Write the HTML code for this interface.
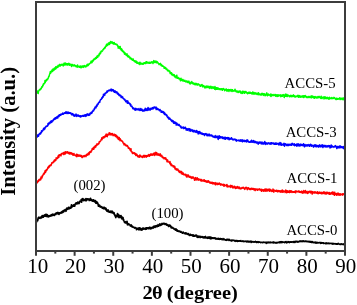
<!DOCTYPE html>
<html><head><meta charset="utf-8"><style>
html,body{margin:0;padding:0;background:#fff;}
svg{display:block;will-change:transform;}
text{font-family:"Liberation Serif",serif;}
</style></head><body>
<svg width="357" height="305" viewBox="0 0 357 305">
<rect x="0" y="0" width="357" height="305" fill="#fff"/>
<g fill="none" stroke-width="1.5" stroke-linejoin="round">
<path stroke="#00ff00" d="M36.0,94.82 L36.2,91.87 L36.5,93.45 L36.8,92.64 L37.0,92.49 L37.2,92.41 L37.5,91.09 L37.8,91.92 L38.0,91.29 L38.2,93.55 L38.5,91.44 L38.8,90.82 L39.0,90.59 L39.2,90.08 L39.5,89.55 L39.8,89.65 L40.0,89.86 L40.2,89.10 L40.5,89.48 L40.8,88.43 L41.0,88.19 L41.2,88.72 L41.5,87.73 L41.8,86.71 L42.0,86.51 L42.2,86.54 L42.5,86.97 L42.8,85.25 L43.0,84.87 L43.2,85.23 L43.5,83.71 L43.8,83.70 L44.0,84.04 L44.2,83.51 L44.5,82.89 L44.8,82.91 L45.0,80.49 L45.2,82.49 L45.5,80.99 L45.8,80.25 L46.0,81.11 L46.2,81.05 L46.5,80.04 L46.8,79.34 L47.0,79.66 L47.2,79.26 L47.5,79.77 L47.8,78.99 L48.0,78.26 L48.2,78.39 L48.5,77.15 L48.8,76.24 L49.0,76.55 L49.2,75.85 L49.5,74.65 L49.8,73.64 L50.0,73.74 L50.2,71.71 L50.5,73.26 L50.8,72.80 L51.0,71.22 L51.2,71.95 L51.5,71.07 L51.8,71.85 L52.0,69.93 L52.2,70.36 L52.5,71.10 L52.8,71.13 L53.0,68.91 L53.2,69.66 L53.5,69.92 L53.8,69.12 L54.0,70.21 L54.2,68.32 L54.5,69.03 L54.8,67.97 L55.0,69.24 L55.2,68.18 L55.5,67.77 L55.8,66.78 L56.0,68.64 L56.2,67.90 L56.5,67.73 L56.8,67.79 L57.0,67.15 L57.2,66.39 L57.5,66.14 L57.8,65.99 L58.0,67.15 L58.2,65.31 L58.5,65.69 L58.8,65.73 L59.0,65.94 L59.2,66.03 L59.5,64.81 L59.8,64.40 L60.0,65.32 L60.2,65.94 L60.5,65.56 L60.8,65.14 L61.0,64.73 L61.2,65.02 L61.5,64.62 L61.8,65.20 L62.0,64.18 L62.2,64.70 L62.5,64.51 L62.8,64.87 L63.0,64.65 L63.2,66.01 L63.5,65.35 L63.8,65.32 L64.0,63.17 L64.2,64.16 L64.5,63.96 L64.8,64.61 L65.0,62.88 L65.2,64.91 L65.5,64.79 L65.8,63.31 L66.0,63.45 L66.2,63.50 L66.5,63.96 L66.8,64.27 L67.0,65.08 L67.2,63.70 L67.5,64.26 L67.8,63.89 L68.0,64.87 L68.2,64.31 L68.5,64.74 L68.8,63.35 L69.0,63.97 L69.2,63.70 L69.5,65.19 L69.8,64.79 L70.0,64.31 L70.2,64.31 L70.5,64.96 L70.8,64.32 L71.0,64.26 L71.2,65.17 L71.5,66.43 L71.8,64.87 L72.0,64.75 L72.2,64.45 L72.5,64.42 L72.8,65.60 L73.0,65.86 L73.2,65.42 L73.5,65.67 L73.8,65.61 L74.0,65.69 L74.2,64.77 L74.5,65.48 L74.8,65.90 L75.0,65.44 L75.2,65.69 L75.5,65.55 L75.8,65.90 L76.0,66.65 L76.2,65.93 L76.5,66.11 L76.8,66.70 L77.0,66.61 L77.2,67.25 L77.5,64.99 L77.8,66.76 L78.0,65.97 L78.2,66.34 L78.5,66.77 L78.8,66.92 L79.0,66.90 L79.2,66.38 L79.5,67.27 L79.8,66.15 L80.0,66.25 L80.2,66.84 L80.5,66.05 L80.8,67.69 L81.0,67.01 L81.2,67.71 L81.5,66.38 L81.8,66.17 L82.0,66.50 L82.2,66.84 L82.5,66.05 L82.8,66.63 L83.0,66.39 L83.2,67.37 L83.5,66.00 L83.8,67.03 L84.0,66.01 L84.2,65.81 L84.5,65.93 L84.8,65.60 L85.0,66.34 L85.2,66.81 L85.5,66.21 L85.8,66.41 L86.0,66.92 L86.2,66.01 L86.5,65.87 L86.8,65.49 L87.0,64.59 L87.2,65.90 L87.5,64.25 L87.8,65.55 L88.0,64.98 L88.2,65.48 L88.5,64.58 L88.8,63.93 L89.0,64.44 L89.2,63.69 L89.5,63.72 L89.8,63.66 L90.0,63.37 L90.2,63.14 L90.5,62.56 L90.8,62.75 L91.0,61.37 L91.2,62.36 L91.5,61.52 L91.8,62.70 L92.0,62.57 L92.2,60.42 L92.5,61.46 L92.8,61.07 L93.0,60.29 L93.2,61.00 L93.5,60.17 L93.8,59.14 L94.0,59.80 L94.2,59.62 L94.5,59.52 L94.8,58.46 L95.0,59.31 L95.2,59.12 L95.5,57.72 L95.8,57.75 L96.0,57.83 L96.2,57.27 L96.5,58.38 L96.8,57.18 L97.0,56.16 L97.2,56.01 L97.5,56.16 L97.8,57.28 L98.0,55.51 L98.2,55.40 L98.5,55.34 L98.8,54.72 L99.0,55.82 L99.2,53.83 L99.5,54.30 L99.8,53.65 L100.0,53.62 L100.2,52.24 L100.5,53.71 L100.8,52.27 L101.0,52.05 L101.2,51.17 L101.5,50.98 L101.8,51.45 L102.0,51.40 L102.2,50.94 L102.5,50.89 L102.8,50.28 L103.0,49.55 L103.2,49.71 L103.5,49.25 L103.8,48.53 L104.0,48.72 L104.2,48.76 L104.5,47.84 L104.8,47.20 L105.0,47.56 L105.2,47.97 L105.5,46.41 L105.8,46.19 L106.0,45.88 L106.2,46.42 L106.5,44.32 L106.8,45.38 L107.0,45.63 L107.2,44.20 L107.5,45.38 L107.8,44.62 L108.0,43.81 L108.2,44.10 L108.5,42.89 L108.8,43.31 L109.0,44.59 L109.2,42.81 L109.5,44.31 L109.8,43.04 L110.0,43.58 L110.2,42.92 L110.5,41.49 L110.8,42.46 L111.0,42.91 L111.2,42.12 L111.5,42.01 L111.8,43.06 L112.0,42.48 L112.2,41.89 L112.5,42.53 L112.8,43.50 L113.0,42.75 L113.2,43.64 L113.5,44.05 L113.8,43.21 L114.0,42.58 L114.2,42.57 L114.5,43.46 L114.8,44.15 L115.0,43.94 L115.2,44.29 L115.5,43.89 L115.8,44.53 L116.0,44.27 L116.2,44.57 L116.5,44.19 L116.8,44.22 L117.0,45.07 L117.2,44.89 L117.5,45.20 L117.8,46.39 L118.0,46.15 L118.2,48.19 L118.5,47.23 L118.8,46.53 L119.0,47.61 L119.2,47.59 L119.5,47.20 L119.8,48.51 L120.0,47.61 L120.2,46.48 L120.5,49.02 L120.8,48.41 L121.0,49.91 L121.2,48.86 L121.5,48.79 L121.8,50.67 L122.0,49.34 L122.2,50.36 L122.5,51.36 L122.8,50.82 L123.0,50.98 L123.2,51.37 L123.5,52.10 L123.8,51.41 L124.0,52.56 L124.2,52.84 L124.5,54.19 L124.8,52.88 L125.0,52.82 L125.2,54.08 L125.5,53.66 L125.8,54.32 L126.0,54.47 L126.2,55.32 L126.5,54.45 L126.8,55.01 L127.0,53.76 L127.2,54.97 L127.5,56.63 L127.8,55.51 L128.0,55.70 L128.2,55.59 L128.5,56.87 L128.8,56.82 L129.0,56.20 L129.2,57.50 L129.5,57.43 L129.8,57.91 L130.0,57.25 L130.2,58.85 L130.5,58.23 L130.8,58.09 L131.0,58.03 L131.2,58.37 L131.5,59.22 L131.8,58.73 L132.0,59.73 L132.2,59.62 L132.5,60.28 L132.8,60.17 L133.0,59.84 L133.2,58.93 L133.5,60.45 L133.8,60.94 L134.0,60.75 L134.2,61.16 L134.5,60.71 L134.8,60.93 L135.0,60.73 L135.2,62.25 L135.5,61.66 L135.8,61.40 L136.0,61.01 L136.2,61.84 L136.5,62.91 L136.8,62.43 L137.0,61.82 L137.2,63.21 L137.5,63.31 L137.8,63.13 L138.0,63.11 L138.2,63.43 L138.5,63.16 L138.8,63.40 L139.0,62.57 L139.2,64.03 L139.5,63.36 L139.8,64.52 L140.0,62.15 L140.2,63.85 L140.5,64.06 L140.8,63.29 L141.0,63.77 L141.2,63.95 L141.5,63.85 L141.8,63.18 L142.0,63.41 L142.2,64.11 L142.5,64.27 L142.8,63.56 L143.0,63.55 L143.2,63.62 L143.5,64.12 L143.8,62.87 L144.0,62.69 L144.2,63.53 L144.5,62.73 L144.8,62.97 L145.0,63.29 L145.2,63.43 L145.5,62.40 L145.8,63.43 L146.0,61.80 L146.2,63.12 L146.5,61.79 L146.8,61.94 L147.0,63.07 L147.2,62.43 L147.5,62.19 L147.8,62.39 L148.0,62.93 L148.2,62.62 L148.5,62.63 L148.8,63.27 L149.0,62.20 L149.2,62.34 L149.5,62.30 L149.8,63.30 L150.0,63.16 L150.2,63.30 L150.5,62.45 L150.8,62.31 L151.0,62.85 L151.2,62.03 L151.5,62.69 L151.8,62.56 L152.0,61.66 L152.2,61.98 L152.5,61.94 L152.8,63.04 L153.0,63.55 L153.2,61.94 L153.5,62.01 L153.8,60.63 L154.0,62.13 L154.2,62.00 L154.5,61.36 L154.8,62.47 L155.0,61.06 L155.2,61.87 L155.5,62.08 L155.8,61.26 L156.0,62.55 L156.2,62.74 L156.5,61.36 L156.8,61.45 L157.0,62.77 L157.2,62.52 L157.5,61.95 L157.8,62.64 L158.0,62.89 L158.2,62.99 L158.5,63.70 L158.8,63.54 L159.0,64.48 L159.2,64.36 L159.5,64.05 L159.8,64.40 L160.0,64.67 L160.2,64.42 L160.5,63.38 L160.8,64.77 L161.0,64.44 L161.2,65.51 L161.5,64.76 L161.8,65.19 L162.0,65.28 L162.2,66.32 L162.5,65.65 L162.8,65.63 L163.0,66.22 L163.2,66.00 L163.5,66.58 L163.8,66.70 L164.0,67.08 L164.2,68.29 L164.5,67.10 L164.8,67.58 L165.0,67.64 L165.2,68.38 L165.5,67.47 L165.8,67.97 L166.0,68.57 L166.2,69.13 L166.5,68.99 L166.8,68.93 L167.0,68.92 L167.2,69.96 L167.5,70.73 L167.8,70.28 L168.0,70.41 L168.2,70.79 L168.5,70.18 L168.8,70.80 L169.0,71.06 L169.2,71.63 L169.5,71.68 L169.8,71.21 L170.0,72.85 L170.2,73.44 L170.5,72.50 L170.8,73.14 L171.0,73.29 L171.2,73.83 L171.5,72.70 L171.8,74.77 L172.0,73.74 L172.2,74.98 L172.5,74.47 L172.8,74.38 L173.0,74.72 L173.2,75.52 L173.5,74.64 L173.8,75.11 L174.0,75.22 L174.2,74.65 L174.5,76.63 L174.8,76.36 L175.0,76.16 L175.2,77.03 L175.5,75.92 L175.8,76.60 L176.0,77.83 L176.2,77.54 L176.5,75.76 L176.8,75.24 L177.0,76.76 L177.2,78.17 L177.5,77.39 L177.8,77.68 L178.0,78.31 L178.2,77.55 L178.5,78.35 L178.8,78.83 L179.0,78.76 L179.2,78.85 L179.5,78.38 L179.8,79.17 L180.0,78.73 L180.2,79.89 L180.5,80.77 L180.8,78.90 L181.0,78.15 L181.2,79.31 L181.5,79.90 L181.8,80.41 L182.0,80.53 L182.2,79.51 L182.5,79.60 L182.8,80.93 L183.0,79.61 L183.2,81.01 L183.5,80.31 L183.8,80.99 L184.0,81.04 L184.2,81.17 L184.5,81.28 L184.8,80.27 L185.0,81.13 L185.2,81.04 L185.5,81.29 L185.8,81.93 L186.0,81.11 L186.2,80.92 L186.5,81.00 L186.8,81.33 L187.0,82.05 L187.2,81.19 L187.5,82.45 L187.8,82.01 L188.0,81.78 L188.2,81.19 L188.5,82.22 L188.8,82.56 L189.0,81.17 L189.2,83.02 L189.5,83.36 L189.8,82.65 L190.0,82.82 L190.2,84.04 L190.5,83.40 L190.8,82.19 L191.0,82.79 L191.2,82.77 L191.5,82.84 L191.8,81.57 L192.0,83.51 L192.2,82.73 L192.5,83.27 L192.8,83.14 L193.0,83.81 L193.2,83.16 L193.5,82.92 L193.8,83.77 L194.0,84.35 L194.2,83.37 L194.5,84.45 L194.8,83.84 L195.0,83.43 L195.2,84.72 L195.5,83.38 L195.8,84.55 L196.0,83.71 L196.2,84.35 L196.5,83.42 L196.8,83.73 L197.0,84.96 L197.2,84.51 L197.5,84.50 L197.8,84.29 L198.0,84.91 L198.2,83.88 L198.5,84.13 L198.8,84.79 L199.0,84.46 L199.2,84.61 L199.5,85.07 L199.8,85.10 L200.0,85.11 L200.2,86.31 L200.5,85.98 L200.8,86.18 L201.0,85.48 L201.2,85.26 L201.5,84.75 L201.8,85.47 L202.0,84.49 L202.2,85.45 L202.5,86.31 L202.8,86.89 L203.0,86.55 L203.2,85.51 L203.5,86.38 L203.8,85.66 L204.0,86.69 L204.2,86.18 L204.5,86.81 L204.8,87.90 L205.0,86.96 L205.2,87.86 L205.5,86.62 L205.8,86.36 L206.0,87.41 L206.2,87.70 L206.5,86.38 L206.8,86.81 L207.0,85.95 L207.2,86.74 L207.5,87.44 L207.8,86.90 L208.0,86.66 L208.2,86.21 L208.5,87.32 L208.8,87.63 L209.0,87.55 L209.2,87.39 L209.5,86.52 L209.8,88.39 L210.0,87.35 L210.2,87.34 L210.5,87.91 L210.8,86.22 L211.0,87.52 L211.2,87.53 L211.5,87.88 L211.8,88.51 L212.0,88.03 L212.2,86.69 L212.5,87.63 L212.8,88.00 L213.0,88.01 L213.2,87.19 L213.5,87.01 L213.8,88.38 L214.0,88.30 L214.2,88.12 L214.5,87.14 L214.8,89.28 L215.0,86.52 L215.2,88.08 L215.5,89.60 L215.8,88.29 L216.0,88.56 L216.2,87.75 L216.5,89.32 L216.8,87.77 L217.0,88.73 L217.2,88.70 L217.5,88.03 L217.8,89.23 L218.0,87.89 L218.2,88.37 L218.5,88.80 L218.8,88.61 L219.0,89.17 L219.2,89.49 L219.5,88.79 L219.8,88.68 L220.0,88.73 L220.2,88.86 L220.5,89.61 L220.8,89.03 L221.0,89.44 L221.2,89.18 L221.5,88.76 L221.8,89.82 L222.0,88.72 L222.2,89.38 L222.5,90.31 L222.8,88.79 L223.0,89.45 L223.2,88.57 L223.5,89.25 L223.8,88.70 L224.0,89.41 L224.2,89.34 L224.5,89.78 L224.8,90.68 L225.0,89.93 L225.2,90.19 L225.5,89.80 L225.8,89.72 L226.0,89.40 L226.2,88.85 L226.5,90.01 L226.8,90.98 L227.0,90.32 L227.2,89.74 L227.5,91.09 L227.8,89.87 L228.0,89.79 L228.2,89.47 L228.5,89.65 L228.8,90.11 L229.0,91.49 L229.2,90.20 L229.5,89.74 L229.8,90.02 L230.0,90.29 L230.2,89.43 L230.5,90.56 L230.8,90.94 L231.0,90.74 L231.2,90.94 L231.5,89.84 L231.8,89.63 L232.0,91.45 L232.2,91.37 L232.5,89.83 L232.8,90.91 L233.0,90.83 L233.2,91.18 L233.5,91.01 L233.8,90.62 L234.0,91.07 L234.2,91.09 L234.5,91.00 L234.8,89.95 L235.0,89.30 L235.2,90.66 L235.5,90.19 L235.8,91.36 L236.0,91.68 L236.2,91.44 L236.5,91.10 L236.8,91.40 L237.0,92.10 L237.2,91.00 L237.5,92.03 L237.8,91.94 L238.0,91.71 L238.2,92.46 L238.5,91.19 L238.8,92.23 L239.0,91.14 L239.2,91.28 L239.5,91.14 L239.8,92.08 L240.0,91.29 L240.2,91.92 L240.5,91.24 L240.8,92.60 L241.0,93.10 L241.2,92.17 L241.5,93.05 L241.8,92.44 L242.0,93.44 L242.2,92.23 L242.5,91.27 L242.8,93.14 L243.0,92.20 L243.2,91.69 L243.5,91.95 L243.8,91.40 L244.0,92.30 L244.2,91.79 L244.5,93.36 L244.8,92.89 L245.0,91.53 L245.2,91.65 L245.5,92.24 L245.8,91.45 L246.0,92.57 L246.2,92.64 L246.5,92.23 L246.8,92.39 L247.0,93.04 L247.2,93.62 L247.5,93.69 L247.8,92.84 L248.0,93.36 L248.2,92.43 L248.5,93.14 L248.8,92.34 L249.0,93.38 L249.2,92.22 L249.5,92.41 L249.8,93.01 L250.0,93.37 L250.2,92.20 L250.5,92.76 L250.8,93.19 L251.0,93.27 L251.2,92.65 L251.5,93.24 L251.8,93.04 L252.0,94.07 L252.2,93.58 L252.5,92.48 L252.8,91.97 L253.0,93.38 L253.2,94.05 L253.5,93.47 L253.8,93.91 L254.0,93.12 L254.2,92.61 L254.5,93.90 L254.8,93.54 L255.0,93.91 L255.2,92.70 L255.5,93.66 L255.8,93.20 L256.0,94.08 L256.2,93.28 L256.5,93.29 L256.8,93.32 L257.0,94.46 L257.2,93.74 L257.5,93.30 L257.8,93.16 L258.0,93.18 L258.2,94.71 L258.5,92.77 L258.8,93.37 L259.0,94.29 L259.2,94.64 L259.5,93.88 L259.8,94.46 L260.0,94.47 L260.2,94.64 L260.5,94.10 L260.8,95.09 L261.0,94.25 L261.2,95.08 L261.5,93.53 L261.8,94.78 L262.0,93.49 L262.2,93.37 L262.5,94.60 L262.8,93.83 L263.0,94.62 L263.2,93.73 L263.5,95.37 L263.8,94.43 L264.0,93.77 L264.2,94.58 L264.5,95.03 L264.8,94.06 L265.0,94.86 L265.2,95.80 L265.5,95.12 L265.8,94.61 L266.0,94.30 L266.2,95.01 L266.5,93.77 L266.8,92.88 L267.0,94.32 L267.2,94.09 L267.5,95.80 L267.8,94.86 L268.0,94.20 L268.2,94.11 L268.5,95.12 L268.8,94.34 L269.0,94.51 L269.2,94.82 L269.5,94.94 L269.8,94.96 L270.0,94.99 L270.2,95.72 L270.5,95.97 L270.8,93.97 L271.0,96.52 L271.2,95.07 L271.5,95.75 L271.8,94.58 L272.0,95.23 L272.2,95.18 L272.5,95.13 L272.8,95.59 L273.0,95.47 L273.2,94.50 L273.5,95.04 L273.8,95.56 L274.0,95.55 L274.2,94.95 L274.5,95.00 L274.8,95.08 L275.0,94.53 L275.2,94.43 L275.5,96.16 L275.8,94.99 L276.0,95.30 L276.2,94.80 L276.5,96.04 L276.8,96.33 L277.0,95.16 L277.2,95.61 L277.5,94.86 L277.8,96.39 L278.0,95.89 L278.2,94.85 L278.5,96.11 L278.8,95.59 L279.0,95.64 L279.2,95.62 L279.5,95.02 L279.8,95.11 L280.0,95.82 L280.2,95.43 L280.5,94.90 L280.8,96.70 L281.0,95.37 L281.2,95.18 L281.5,95.11 L281.8,95.95 L282.0,96.14 L282.2,95.72 L282.5,96.10 L282.8,94.70 L283.0,95.39 L283.2,95.34 L283.5,95.64 L283.8,95.95 L284.0,94.44 L284.2,97.56 L284.5,95.17 L284.8,95.92 L285.0,96.22 L285.2,96.25 L285.5,95.89 L285.8,94.02 L286.0,95.12 L286.2,96.25 L286.5,95.25 L286.8,95.18 L287.0,94.42 L287.2,96.57 L287.5,96.16 L287.8,95.33 L288.0,95.80 L288.2,95.83 L288.5,95.24 L288.8,95.76 L289.0,96.09 L289.2,96.28 L289.5,96.72 L289.8,95.99 L290.0,95.71 L290.2,96.24 L290.5,95.63 L290.8,95.27 L291.0,96.72 L291.2,95.82 L291.5,96.14 L291.8,96.47 L292.0,95.43 L292.2,96.49 L292.5,96.39 L292.8,96.07 L293.0,96.38 L293.2,95.70 L293.5,94.85 L293.8,96.01 L294.0,95.65 L294.2,96.73 L294.5,96.38 L294.8,95.91 L295.0,96.27 L295.2,97.07 L295.5,96.95 L295.8,96.50 L296.0,96.55 L296.2,96.14 L296.5,96.24 L296.8,96.69 L297.0,96.27 L297.2,96.54 L297.5,95.70 L297.8,95.38 L298.0,95.37 L298.2,96.14 L298.5,97.21 L298.8,97.14 L299.0,95.84 L299.2,95.52 L299.5,96.94 L299.8,96.75 L300.0,95.67 L300.2,97.13 L300.5,96.62 L300.8,97.32 L301.0,96.74 L301.2,97.08 L301.5,96.75 L301.8,96.00 L302.0,96.44 L302.2,96.19 L302.5,97.10 L302.8,96.02 L303.0,95.71 L303.2,97.05 L303.5,97.34 L303.8,97.53 L304.0,97.33 L304.2,95.78 L304.5,96.28 L304.8,96.38 L305.0,96.71 L305.2,95.44 L305.5,96.74 L305.8,96.92 L306.0,96.20 L306.2,96.85 L306.5,97.51 L306.8,96.83 L307.0,97.45 L307.2,97.44 L307.5,97.09 L307.8,97.08 L308.0,96.64 L308.2,97.62 L308.5,96.60 L308.8,96.48 L309.0,97.34 L309.2,96.49 L309.5,97.19 L309.8,97.58 L310.0,97.01 L310.2,97.04 L310.5,97.54 L310.8,97.45 L311.0,96.09 L311.2,96.24 L311.5,97.84 L311.8,97.28 L312.0,95.81 L312.2,96.27 L312.5,97.10 L312.8,96.51 L313.0,97.40 L313.2,97.18 L313.5,97.44 L313.8,96.45 L314.0,97.54 L314.2,98.36 L314.5,96.72 L314.8,98.00 L315.0,97.81 L315.2,97.62 L315.5,97.21 L315.8,96.57 L316.0,96.75 L316.2,97.75 L316.5,97.89 L316.8,98.05 L317.0,97.91 L317.2,97.89 L317.5,97.10 L317.8,96.65 L318.0,97.51 L318.2,97.70 L318.5,97.47 L318.8,96.52 L319.0,97.13 L319.2,96.57 L319.5,97.56 L319.8,96.85 L320.0,97.40 L320.2,97.71 L320.5,97.61 L320.8,98.36 L321.0,96.89 L321.2,96.26 L321.5,98.15 L321.8,98.44 L322.0,98.47 L322.2,97.80 L322.5,97.96 L322.8,97.73 L323.0,96.89 L323.2,97.34 L323.5,98.00 L323.8,97.37 L324.0,98.87 L324.2,96.82 L324.5,97.50 L324.8,98.44 L325.0,97.42 L325.2,97.12 L325.5,97.00 L325.8,97.39 L326.0,98.75 L326.2,98.10 L326.5,98.18 L326.8,97.58 L327.0,98.41 L327.2,97.98 L327.5,97.38 L327.8,97.68 L328.0,98.08 L328.2,98.68 L328.5,97.96 L328.8,98.31 L329.0,99.23 L329.2,97.56 L329.5,97.31 L329.8,98.66 L330.0,98.34 L330.2,98.04 L330.5,98.27 L330.8,97.93 L331.0,98.45 L331.2,97.95 L331.5,98.65 L331.8,97.48 L332.0,97.71 L332.2,98.29 L332.5,97.95 L332.8,98.66 L333.0,98.24 L333.2,97.95 L333.5,98.42 L333.8,97.99 L334.0,97.39 L334.2,97.66 L334.5,97.87 L334.8,98.09 L335.0,98.45 L335.2,98.95 L335.5,98.75 L335.8,99.50 L336.0,99.22 L336.2,98.35 L336.5,99.47 L336.8,99.21 L337.0,98.24 L337.2,98.72 L337.5,99.20 L337.8,98.71 L338.0,99.19 L338.2,98.83 L338.5,99.03 L338.8,98.43 L339.0,98.87 L339.2,98.44 L339.5,99.08 L339.8,97.68 L340.0,98.91 L340.2,99.47 L340.5,99.09 L340.8,98.74 L341.0,99.09 L341.2,98.28 L341.5,98.30 L341.8,98.60 L342.0,98.74 L342.2,99.43 L342.5,98.33 L342.8,99.48 L343.0,97.95 L343.2,98.44 L343.5,98.91 L343.8,99.64 L344.0,98.59 L344.2,97.69 L344.5,99.25 L344.8,98.99 L345.0,98.38"/>
<path stroke="#0000ff" d="M36.0,135.60 L36.2,135.71 L36.5,136.08 L36.8,136.30 L37.0,134.89 L37.2,137.01 L37.5,135.46 L37.8,135.09 L38.0,135.55 L38.2,135.03 L38.5,136.19 L38.8,135.25 L39.0,134.17 L39.2,133.95 L39.5,133.68 L39.8,133.55 L40.0,133.94 L40.2,132.92 L40.5,134.02 L40.8,132.75 L41.0,132.44 L41.2,132.81 L41.5,130.77 L41.8,131.10 L42.0,131.72 L42.2,131.07 L42.5,130.75 L42.8,130.69 L43.0,129.79 L43.2,129.75 L43.5,128.75 L43.8,128.16 L44.0,129.76 L44.2,128.16 L44.5,128.00 L44.8,128.99 L45.0,128.50 L45.2,127.26 L45.5,126.97 L45.8,126.95 L46.0,126.14 L46.2,126.75 L46.5,126.23 L46.8,125.94 L47.0,126.04 L47.2,125.74 L47.5,126.15 L47.8,125.69 L48.0,123.49 L48.2,124.80 L48.5,123.35 L48.8,122.92 L49.0,123.97 L49.2,122.89 L49.5,122.89 L49.8,123.50 L50.0,122.24 L50.2,121.89 L50.5,122.40 L50.8,122.73 L51.0,122.11 L51.2,120.65 L51.5,120.99 L51.8,121.08 L52.0,122.13 L52.2,121.31 L52.5,121.09 L52.8,121.10 L53.0,119.99 L53.2,120.27 L53.5,120.08 L53.8,119.00 L54.0,119.37 L54.2,119.52 L54.5,118.33 L54.8,119.26 L55.0,119.03 L55.2,118.99 L55.5,117.71 L55.8,118.04 L56.0,118.65 L56.2,118.05 L56.5,116.91 L56.8,117.33 L57.0,117.86 L57.2,116.78 L57.5,116.88 L57.8,118.01 L58.0,116.28 L58.2,116.08 L58.5,115.38 L58.8,115.44 L59.0,116.57 L59.2,115.45 L59.5,114.68 L59.8,114.69 L60.0,115.11 L60.2,115.43 L60.5,114.39 L60.8,115.13 L61.0,114.28 L61.2,114.67 L61.5,114.65 L61.8,114.59 L62.0,113.85 L62.2,113.91 L62.5,114.22 L62.8,113.04 L63.0,113.82 L63.2,113.93 L63.5,114.15 L63.8,113.41 L64.0,113.23 L64.2,113.34 L64.5,112.74 L64.8,112.99 L65.0,113.31 L65.2,113.20 L65.5,112.38 L65.8,112.79 L66.0,111.70 L66.2,113.44 L66.5,112.63 L66.8,113.08 L67.0,112.27 L67.2,112.87 L67.5,113.18 L67.8,113.49 L68.0,112.08 L68.2,113.40 L68.5,112.79 L68.8,112.44 L69.0,113.21 L69.2,112.80 L69.5,112.85 L69.8,112.68 L70.0,113.32 L70.2,113.30 L70.5,113.27 L70.8,112.91 L71.0,113.28 L71.2,113.95 L71.5,114.59 L71.8,113.92 L72.0,114.90 L72.2,114.15 L72.5,113.61 L72.8,114.74 L73.0,113.88 L73.2,114.78 L73.5,115.26 L73.8,114.52 L74.0,114.75 L74.2,116.37 L74.5,115.12 L74.8,115.23 L75.0,115.63 L75.2,115.19 L75.5,115.28 L75.8,115.65 L76.0,114.07 L76.2,116.42 L76.5,115.00 L76.8,115.06 L77.0,116.09 L77.2,115.83 L77.5,115.11 L77.8,116.02 L78.0,115.24 L78.2,115.54 L78.5,115.09 L78.8,115.52 L79.0,116.28 L79.2,116.13 L79.5,116.26 L79.8,116.64 L80.0,116.06 L80.2,115.69 L80.5,115.91 L80.8,117.06 L81.0,116.08 L81.2,116.24 L81.5,115.97 L81.8,116.15 L82.0,116.24 L82.2,115.95 L82.5,115.83 L82.8,115.43 L83.0,115.36 L83.2,116.07 L83.5,116.24 L83.8,116.31 L84.0,115.76 L84.2,115.19 L84.5,116.03 L84.8,115.98 L85.0,114.67 L85.2,116.01 L85.5,115.84 L85.8,116.44 L86.0,114.72 L86.2,114.58 L86.5,115.76 L86.8,114.16 L87.0,114.74 L87.2,114.46 L87.5,114.43 L87.8,113.83 L88.0,114.75 L88.2,115.39 L88.5,114.99 L88.8,114.90 L89.0,114.32 L89.2,115.30 L89.5,114.64 L89.8,114.84 L90.0,113.16 L90.2,114.13 L90.5,113.05 L90.8,113.72 L91.0,113.39 L91.2,112.33 L91.5,112.83 L91.8,113.13 L92.0,112.44 L92.2,112.20 L92.5,111.03 L92.8,110.85 L93.0,110.30 L93.2,110.74 L93.5,111.06 L93.8,110.29 L94.0,109.69 L94.2,108.69 L94.5,109.28 L94.8,108.52 L95.0,107.17 L95.2,106.92 L95.5,107.39 L95.8,106.69 L96.0,107.84 L96.2,106.50 L96.5,105.47 L96.8,105.40 L97.0,106.24 L97.2,104.32 L97.5,104.94 L97.8,104.34 L98.0,104.56 L98.2,103.60 L98.5,102.66 L98.8,102.84 L99.0,102.20 L99.2,102.38 L99.5,101.40 L99.8,102.27 L100.0,100.67 L100.2,100.65 L100.5,99.64 L100.8,99.76 L101.0,99.36 L101.2,99.10 L101.5,99.18 L101.8,97.97 L102.0,97.43 L102.2,98.24 L102.5,97.05 L102.8,96.46 L103.0,97.18 L103.2,96.60 L103.5,94.20 L103.8,95.20 L104.0,95.56 L104.2,95.25 L104.5,94.12 L104.8,95.05 L105.0,93.34 L105.2,93.37 L105.5,93.28 L105.8,92.89 L106.0,93.07 L106.2,92.90 L106.5,91.97 L106.8,92.56 L107.0,91.06 L107.2,91.12 L107.5,92.08 L107.8,90.95 L108.0,91.41 L108.2,90.40 L108.5,90.38 L108.8,90.37 L109.0,90.44 L109.2,90.04 L109.5,90.17 L109.8,90.49 L110.0,90.74 L110.2,90.04 L110.5,90.33 L110.8,90.47 L111.0,89.28 L111.2,89.00 L111.5,90.94 L111.8,90.82 L112.0,90.14 L112.2,90.40 L112.5,89.72 L112.8,89.55 L113.0,90.67 L113.2,89.70 L113.5,91.24 L113.8,90.39 L114.0,91.08 L114.2,92.17 L114.5,92.26 L114.8,91.09 L115.0,92.03 L115.2,90.91 L115.5,91.33 L115.8,92.05 L116.0,92.81 L116.2,91.80 L116.5,92.64 L116.8,92.54 L117.0,91.91 L117.2,92.77 L117.5,93.95 L117.8,93.22 L118.0,93.80 L118.2,94.23 L118.5,93.53 L118.8,94.94 L119.0,95.35 L119.2,95.64 L119.5,95.71 L119.8,94.88 L120.0,95.05 L120.2,95.16 L120.5,95.33 L120.8,95.64 L121.0,96.95 L121.2,97.47 L121.5,96.46 L121.8,97.57 L122.0,96.58 L122.2,97.38 L122.5,97.22 L122.8,97.09 L123.0,98.34 L123.2,98.60 L123.5,98.56 L123.8,98.74 L124.0,98.71 L124.2,99.47 L124.5,99.43 L124.8,100.18 L125.0,99.55 L125.2,100.64 L125.5,101.03 L125.8,101.68 L126.0,101.76 L126.2,101.44 L126.5,101.10 L126.8,100.60 L127.0,101.87 L127.2,102.90 L127.5,103.23 L127.8,100.90 L128.0,102.16 L128.2,102.60 L128.5,102.39 L128.8,103.35 L129.0,103.50 L129.2,103.42 L129.5,103.97 L129.8,103.31 L130.0,103.96 L130.2,104.28 L130.5,105.63 L130.8,104.38 L131.0,105.49 L131.2,106.34 L131.5,106.07 L131.8,106.82 L132.0,106.18 L132.2,107.06 L132.5,107.58 L132.8,108.61 L133.0,107.93 L133.2,108.56 L133.5,107.91 L133.8,108.15 L134.0,109.19 L134.2,108.74 L134.5,109.36 L134.8,109.03 L135.0,109.97 L135.2,110.22 L135.5,108.37 L135.8,110.07 L136.0,109.29 L136.2,109.39 L136.5,109.10 L136.8,109.66 L137.0,108.62 L137.2,108.90 L137.5,108.93 L137.8,109.60 L138.0,110.02 L138.2,109.95 L138.5,109.76 L138.8,109.22 L139.0,108.55 L139.2,109.88 L139.5,109.76 L139.8,109.92 L140.0,110.59 L140.2,109.65 L140.5,109.66 L140.8,108.42 L141.0,110.17 L141.2,109.82 L141.5,109.43 L141.8,110.12 L142.0,109.27 L142.2,109.58 L142.5,111.09 L142.8,110.37 L143.0,110.47 L143.2,110.36 L143.5,110.29 L143.8,110.00 L144.0,111.24 L144.2,109.80 L144.5,110.26 L144.8,109.65 L145.0,109.54 L145.2,108.25 L145.5,108.52 L145.8,110.56 L146.0,110.48 L146.2,109.28 L146.5,109.47 L146.8,109.81 L147.0,108.79 L147.2,110.39 L147.5,108.66 L147.8,108.79 L148.0,107.51 L148.2,110.03 L148.5,109.10 L148.8,109.99 L149.0,108.36 L149.2,109.12 L149.5,108.91 L149.8,108.94 L150.0,110.02 L150.2,110.08 L150.5,109.49 L150.8,108.35 L151.0,109.07 L151.2,109.27 L151.5,108.73 L151.8,108.67 L152.0,108.56 L152.2,107.67 L152.5,108.30 L152.8,109.07 L153.0,107.47 L153.2,108.09 L153.5,108.52 L153.8,107.19 L154.0,107.93 L154.2,107.01 L154.5,107.71 L154.8,107.27 L155.0,107.64 L155.2,107.96 L155.5,108.17 L155.8,108.30 L156.0,107.07 L156.2,109.57 L156.5,108.55 L156.8,108.16 L157.0,108.54 L157.2,109.21 L157.5,108.52 L157.8,108.97 L158.0,109.03 L158.2,109.74 L158.5,109.07 L158.8,109.89 L159.0,109.94 L159.2,109.75 L159.5,110.70 L159.8,110.09 L160.0,109.49 L160.2,110.50 L160.5,110.53 L160.8,110.57 L161.0,110.88 L161.2,112.29 L161.5,111.18 L161.8,111.47 L162.0,111.22 L162.2,112.34 L162.5,111.72 L162.8,111.49 L163.0,111.45 L163.2,112.73 L163.5,113.09 L163.8,111.93 L164.0,112.70 L164.2,113.76 L164.5,114.24 L164.8,113.08 L165.0,113.87 L165.2,114.86 L165.5,114.28 L165.8,114.57 L166.0,114.76 L166.2,114.55 L166.5,115.61 L166.8,116.02 L167.0,115.25 L167.2,116.41 L167.5,117.27 L167.8,116.99 L168.0,117.69 L168.2,117.04 L168.5,118.45 L168.8,117.40 L169.0,119.25 L169.2,118.09 L169.5,118.17 L169.8,118.30 L170.0,118.82 L170.2,119.00 L170.5,119.12 L170.8,119.56 L171.0,120.39 L171.2,120.75 L171.5,120.24 L171.8,121.40 L172.0,120.28 L172.2,120.47 L172.5,120.62 L172.8,121.86 L173.0,120.77 L173.2,121.05 L173.5,122.84 L173.8,123.27 L174.0,123.22 L174.2,121.69 L174.5,122.75 L174.8,123.40 L175.0,123.12 L175.2,122.24 L175.5,123.15 L175.8,122.49 L176.0,122.92 L176.2,125.10 L176.5,124.36 L176.8,123.22 L177.0,123.35 L177.2,124.68 L177.5,124.19 L177.8,125.06 L178.0,124.49 L178.2,124.92 L178.5,125.35 L178.8,124.75 L179.0,124.38 L179.2,124.98 L179.5,125.44 L179.8,125.90 L180.0,126.14 L180.2,126.29 L180.5,126.78 L180.8,126.08 L181.0,127.58 L181.2,128.07 L181.5,127.20 L181.8,127.21 L182.0,127.95 L182.2,127.70 L182.5,127.52 L182.8,127.40 L183.0,127.16 L183.2,126.99 L183.5,128.18 L183.8,128.59 L184.0,127.33 L184.2,128.01 L184.5,128.27 L184.8,127.97 L185.0,127.86 L185.2,128.17 L185.5,127.32 L185.8,128.56 L186.0,128.51 L186.2,130.05 L186.5,129.43 L186.8,128.75 L187.0,129.05 L187.2,130.17 L187.5,130.20 L187.8,129.43 L188.0,129.33 L188.2,128.62 L188.5,129.38 L188.8,129.55 L189.0,129.29 L189.2,130.84 L189.5,128.75 L189.8,129.86 L190.0,130.26 L190.2,130.34 L190.5,131.15 L190.8,129.36 L191.0,129.81 L191.2,130.38 L191.5,130.46 L191.8,130.21 L192.0,130.05 L192.2,131.21 L192.5,130.00 L192.8,130.35 L193.0,131.62 L193.2,131.87 L193.5,131.42 L193.8,130.46 L194.0,130.53 L194.2,130.58 L194.5,130.52 L194.8,131.02 L195.0,132.11 L195.2,131.56 L195.5,131.05 L195.8,131.11 L196.0,130.95 L196.2,132.45 L196.5,130.59 L196.8,132.05 L197.0,131.09 L197.2,131.40 L197.5,131.21 L197.8,132.76 L198.0,132.21 L198.2,133.98 L198.5,131.79 L198.8,131.83 L199.0,132.92 L199.2,132.98 L199.5,132.55 L199.8,131.59 L200.0,133.74 L200.2,133.30 L200.5,133.27 L200.8,132.75 L201.0,133.57 L201.2,132.93 L201.5,133.37 L201.8,133.30 L202.0,134.25 L202.2,133.29 L202.5,133.44 L202.8,134.38 L203.0,133.93 L203.2,133.86 L203.5,133.80 L203.8,134.58 L204.0,133.69 L204.2,134.44 L204.5,135.44 L204.8,134.53 L205.0,133.89 L205.2,133.70 L205.5,134.58 L205.8,133.82 L206.0,133.66 L206.2,134.22 L206.5,134.08 L206.8,135.32 L207.0,133.99 L207.2,135.87 L207.5,134.52 L207.8,135.10 L208.0,135.49 L208.2,135.28 L208.5,135.64 L208.8,134.67 L209.0,133.95 L209.2,135.25 L209.5,134.42 L209.8,135.14 L210.0,136.10 L210.2,135.47 L210.5,135.29 L210.8,135.02 L211.0,135.58 L211.2,135.70 L211.5,134.91 L211.8,136.08 L212.0,135.31 L212.2,136.14 L212.5,135.79 L212.8,136.70 L213.0,136.67 L213.2,136.21 L213.5,136.19 L213.8,136.57 L214.0,137.18 L214.2,137.04 L214.5,136.55 L214.8,136.69 L215.0,137.50 L215.2,135.61 L215.5,136.97 L215.8,136.15 L216.0,137.55 L216.2,136.48 L216.5,136.76 L216.8,136.21 L217.0,136.92 L217.2,137.43 L217.5,138.00 L217.8,136.28 L218.0,136.81 L218.2,139.47 L218.5,137.72 L218.8,137.19 L219.0,137.55 L219.2,135.67 L219.5,138.28 L219.8,137.44 L220.0,136.52 L220.2,138.12 L220.5,137.07 L220.8,136.87 L221.0,137.83 L221.2,137.79 L221.5,137.31 L221.8,137.57 L222.0,136.84 L222.2,136.81 L222.5,138.25 L222.8,138.53 L223.0,138.03 L223.2,138.03 L223.5,137.60 L223.8,137.79 L224.0,137.33 L224.2,138.98 L224.5,137.62 L224.8,138.24 L225.0,138.02 L225.2,137.21 L225.5,139.25 L225.8,137.89 L226.0,137.68 L226.2,138.25 L226.5,137.67 L226.8,138.26 L227.0,137.70 L227.2,138.65 L227.5,138.38 L227.8,137.56 L228.0,139.04 L228.2,138.57 L228.5,137.82 L228.8,138.74 L229.0,138.82 L229.2,139.72 L229.5,138.12 L229.8,139.19 L230.0,138.66 L230.2,139.13 L230.5,138.64 L230.8,138.80 L231.0,139.18 L231.2,138.20 L231.5,137.69 L231.8,139.00 L232.0,138.77 L232.2,139.14 L232.5,139.51 L232.8,139.04 L233.0,139.93 L233.2,139.23 L233.5,139.37 L233.8,139.84 L234.0,139.74 L234.2,139.38 L234.5,139.55 L234.8,139.06 L235.0,139.19 L235.2,139.66 L235.5,140.13 L235.8,139.43 L236.0,140.23 L236.2,140.94 L236.5,141.11 L236.8,139.87 L237.0,140.53 L237.2,140.31 L237.5,140.45 L237.8,140.52 L238.0,140.37 L238.2,140.60 L238.5,140.25 L238.8,140.02 L239.0,140.37 L239.2,140.55 L239.5,141.03 L239.8,140.55 L240.0,140.81 L240.2,141.25 L240.5,139.87 L240.8,140.31 L241.0,140.82 L241.2,140.55 L241.5,139.96 L241.8,141.20 L242.0,140.59 L242.2,140.07 L242.5,141.84 L242.8,139.96 L243.0,140.76 L243.2,140.40 L243.5,140.90 L243.8,141.20 L244.0,140.40 L244.2,140.86 L244.5,140.88 L244.8,140.39 L245.0,141.72 L245.2,141.16 L245.5,140.91 L245.8,140.71 L246.0,140.94 L246.2,141.26 L246.5,140.93 L246.8,141.99 L247.0,139.74 L247.2,140.01 L247.5,141.17 L247.8,140.25 L248.0,141.34 L248.2,141.02 L248.5,141.79 L248.8,141.72 L249.0,142.29 L249.2,142.08 L249.5,142.31 L249.8,141.91 L250.0,142.26 L250.2,141.95 L250.5,141.32 L250.8,140.95 L251.0,141.00 L251.2,142.04 L251.5,140.35 L251.8,141.91 L252.0,141.38 L252.2,142.31 L252.5,142.01 L252.8,141.47 L253.0,141.95 L253.2,140.60 L253.5,142.16 L253.8,142.30 L254.0,140.95 L254.2,142.59 L254.5,142.03 L254.8,142.23 L255.0,141.30 L255.2,142.54 L255.5,142.56 L255.8,142.22 L256.0,141.67 L256.2,142.74 L256.5,143.06 L256.8,142.58 L257.0,142.96 L257.2,142.03 L257.5,142.50 L257.8,142.66 L258.0,142.55 L258.2,144.18 L258.5,142.76 L258.8,142.20 L259.0,143.06 L259.2,141.93 L259.5,142.83 L259.8,143.10 L260.0,142.36 L260.2,142.49 L260.5,142.14 L260.8,142.81 L261.0,142.35 L261.2,143.82 L261.5,143.19 L261.8,142.68 L262.0,141.99 L262.2,144.08 L262.5,143.67 L262.8,143.19 L263.0,143.04 L263.2,143.05 L263.5,142.69 L263.8,144.12 L264.0,143.13 L264.2,142.16 L264.5,142.65 L264.8,141.51 L265.0,143.48 L265.2,143.56 L265.5,144.18 L265.8,144.40 L266.0,142.69 L266.2,143.44 L266.5,143.79 L266.8,143.68 L267.0,142.92 L267.2,143.72 L267.5,143.56 L267.8,144.09 L268.0,143.28 L268.2,143.17 L268.5,143.02 L268.8,143.11 L269.0,142.90 L269.2,143.17 L269.5,143.69 L269.8,143.68 L270.0,144.21 L270.2,144.10 L270.5,143.83 L270.8,142.78 L271.0,143.83 L271.2,144.20 L271.5,142.73 L271.8,142.86 L272.0,142.97 L272.2,142.94 L272.5,143.40 L272.8,143.03 L273.0,143.84 L273.2,142.89 L273.5,143.56 L273.8,143.35 L274.0,143.09 L274.2,144.31 L274.5,143.72 L274.8,144.04 L275.0,143.53 L275.2,144.17 L275.5,144.14 L275.8,143.69 L276.0,142.74 L276.2,144.31 L276.5,144.25 L276.8,143.96 L277.0,144.01 L277.2,143.96 L277.5,144.02 L277.8,143.32 L278.0,143.90 L278.2,144.15 L278.5,143.60 L278.8,143.41 L279.0,145.12 L279.2,144.39 L279.5,143.86 L279.8,143.76 L280.0,142.49 L280.2,143.24 L280.5,143.96 L280.8,144.90 L281.0,142.91 L281.2,143.74 L281.5,145.32 L281.8,144.59 L282.0,144.46 L282.2,144.94 L282.5,144.17 L282.8,144.15 L283.0,144.71 L283.2,144.80 L283.5,143.67 L283.8,145.24 L284.0,143.30 L284.2,143.94 L284.5,146.22 L284.8,144.09 L285.0,144.80 L285.2,143.82 L285.5,144.25 L285.8,144.02 L286.0,144.23 L286.2,144.88 L286.5,145.55 L286.8,145.04 L287.0,145.47 L287.2,144.25 L287.5,145.45 L287.8,144.92 L288.0,145.42 L288.2,144.36 L288.5,144.49 L288.8,145.46 L289.0,145.02 L289.2,144.73 L289.5,144.27 L289.8,144.63 L290.0,145.00 L290.2,145.15 L290.5,144.40 L290.8,144.54 L291.0,145.01 L291.2,144.10 L291.5,145.34 L291.8,144.79 L292.0,144.72 L292.2,143.36 L292.5,143.86 L292.8,144.20 L293.0,144.49 L293.2,144.19 L293.5,145.08 L293.8,144.95 L294.0,144.72 L294.2,143.67 L294.5,145.74 L294.8,144.74 L295.0,145.28 L295.2,144.53 L295.5,144.94 L295.8,145.37 L296.0,145.10 L296.2,145.55 L296.5,144.88 L296.8,146.19 L297.0,143.87 L297.2,144.68 L297.5,145.61 L297.8,144.88 L298.0,144.78 L298.2,143.99 L298.5,145.78 L298.8,143.93 L299.0,145.38 L299.2,145.21 L299.5,145.62 L299.8,145.98 L300.0,144.69 L300.2,144.64 L300.5,144.94 L300.8,144.11 L301.0,145.64 L301.2,144.92 L301.5,145.26 L301.8,144.50 L302.0,145.19 L302.2,144.82 L302.5,145.15 L302.8,144.55 L303.0,145.83 L303.2,144.83 L303.5,143.70 L303.8,145.63 L304.0,145.07 L304.2,144.73 L304.5,146.77 L304.8,145.24 L305.0,144.48 L305.2,144.92 L305.5,145.53 L305.8,145.17 L306.0,146.06 L306.2,145.96 L306.5,144.86 L306.8,145.37 L307.0,145.74 L307.2,145.11 L307.5,145.09 L307.8,145.91 L308.0,145.66 L308.2,144.56 L308.5,145.08 L308.8,145.17 L309.0,145.36 L309.2,145.01 L309.5,146.25 L309.8,144.88 L310.0,144.82 L310.2,145.60 L310.5,144.14 L310.8,144.88 L311.0,145.88 L311.2,144.72 L311.5,145.02 L311.8,146.19 L312.0,145.83 L312.2,145.60 L312.5,145.72 L312.8,145.18 L313.0,145.78 L313.2,145.49 L313.5,147.12 L313.8,145.96 L314.0,145.44 L314.2,145.62 L314.5,145.70 L314.8,144.85 L315.0,145.20 L315.2,146.62 L315.5,144.88 L315.8,145.38 L316.0,146.36 L316.2,146.66 L316.5,145.15 L316.8,146.66 L317.0,145.58 L317.2,146.80 L317.5,146.12 L317.8,145.66 L318.0,146.28 L318.2,146.20 L318.5,145.41 L318.8,147.17 L319.0,145.69 L319.2,146.60 L319.5,145.63 L319.8,144.84 L320.0,145.28 L320.2,145.90 L320.5,146.39 L320.8,147.05 L321.0,146.05 L321.2,145.85 L321.5,145.29 L321.8,146.02 L322.0,146.24 L322.2,144.74 L322.5,146.87 L322.8,146.78 L323.0,147.48 L323.2,145.58 L323.5,146.16 L323.8,146.16 L324.0,145.37 L324.2,145.67 L324.5,145.60 L324.8,146.51 L325.0,146.48 L325.2,147.04 L325.5,146.00 L325.8,145.42 L326.0,146.54 L326.2,146.51 L326.5,146.70 L326.8,147.06 L327.0,145.98 L327.2,146.82 L327.5,145.76 L327.8,146.47 L328.0,146.80 L328.2,146.33 L328.5,146.55 L328.8,145.59 L329.0,146.06 L329.2,146.55 L329.5,145.75 L329.8,145.98 L330.0,147.97 L330.2,146.67 L330.5,146.04 L330.8,145.93 L331.0,147.39 L331.2,144.89 L331.5,146.36 L331.8,146.95 L332.0,146.25 L332.2,146.91 L332.5,145.98 L332.8,146.61 L333.0,146.66 L333.2,146.66 L333.5,146.75 L333.8,146.70 L334.0,147.36 L334.2,146.55 L334.5,146.37 L334.8,146.57 L335.0,146.57 L335.2,145.85 L335.5,145.63 L335.8,145.98 L336.0,146.98 L336.2,146.43 L336.5,146.60 L336.8,148.58 L337.0,147.55 L337.2,146.77 L337.5,146.53 L337.8,147.75 L338.0,146.47 L338.2,147.70 L338.5,147.33 L338.8,147.82 L339.0,146.57 L339.2,147.57 L339.5,145.95 L339.8,146.95 L340.0,147.72 L340.2,147.51 L340.5,146.00 L340.8,147.54 L341.0,147.41 L341.2,147.12 L341.5,146.74 L341.8,147.02 L342.0,146.86 L342.2,147.79 L342.5,147.52 L342.8,147.90 L343.0,147.69 L343.2,146.52 L343.5,147.39 L343.8,148.62 L344.0,146.68 L344.2,147.53 L344.5,146.91 L344.8,146.86 L345.0,147.54"/>
<path stroke="#ff0000" d="M36.0,183.97 L36.2,183.59 L36.5,183.13 L36.8,183.15 L37.0,181.33 L37.2,182.54 L37.5,182.03 L37.8,181.43 L38.0,181.28 L38.2,180.53 L38.5,181.49 L38.8,180.09 L39.0,179.40 L39.2,180.03 L39.5,179.41 L39.8,179.44 L40.0,180.11 L40.2,178.82 L40.5,178.67 L40.8,179.64 L41.0,177.11 L41.2,177.85 L41.5,178.00 L41.8,177.87 L42.0,177.96 L42.2,175.87 L42.5,176.29 L42.8,175.52 L43.0,174.95 L43.2,174.44 L43.5,173.65 L43.8,174.39 L44.0,174.30 L44.2,172.86 L44.5,173.60 L44.8,172.46 L45.0,171.82 L45.2,170.49 L45.5,172.37 L45.8,171.78 L46.0,170.80 L46.2,170.39 L46.5,169.48 L46.8,170.21 L47.0,169.50 L47.2,169.52 L47.5,168.95 L47.8,167.64 L48.0,167.21 L48.2,168.07 L48.5,166.47 L48.8,167.33 L49.0,167.39 L49.2,165.76 L49.5,166.63 L49.8,165.94 L50.0,165.93 L50.2,164.92 L50.5,164.99 L50.8,164.96 L51.0,165.51 L51.2,164.56 L51.5,164.13 L51.8,162.75 L52.0,163.45 L52.2,162.56 L52.5,162.64 L52.8,162.57 L53.0,162.72 L53.2,162.21 L53.5,161.70 L53.8,161.28 L54.0,161.86 L54.2,160.24 L54.5,160.53 L54.8,161.07 L55.0,159.85 L55.2,160.21 L55.5,159.98 L55.8,160.38 L56.0,159.61 L56.2,157.67 L56.5,158.41 L56.8,158.34 L57.0,158.42 L57.2,157.91 L57.5,158.58 L57.8,157.87 L58.0,156.27 L58.2,156.38 L58.5,155.30 L58.8,157.38 L59.0,156.05 L59.2,155.83 L59.5,154.75 L59.8,155.24 L60.0,155.57 L60.2,154.87 L60.5,154.70 L60.8,154.39 L61.0,155.80 L61.2,154.12 L61.5,153.43 L61.8,153.87 L62.0,153.85 L62.2,153.90 L62.5,153.70 L62.8,153.07 L63.0,153.54 L63.2,153.81 L63.5,152.64 L63.8,154.61 L64.0,154.35 L64.2,152.13 L64.5,152.92 L64.8,153.67 L65.0,153.79 L65.2,153.98 L65.5,151.69 L65.8,152.07 L66.0,152.36 L66.2,152.95 L66.5,151.92 L66.8,152.80 L67.0,152.78 L67.2,152.93 L67.5,151.71 L67.8,152.63 L68.0,152.58 L68.2,152.32 L68.5,153.41 L68.8,152.50 L69.0,153.62 L69.2,152.45 L69.5,153.93 L69.8,153.97 L70.0,152.55 L70.2,153.34 L70.5,153.42 L70.8,152.72 L71.0,153.88 L71.2,153.84 L71.5,153.03 L71.8,153.71 L72.0,154.30 L72.2,153.77 L72.5,153.55 L72.8,155.10 L73.0,153.63 L73.2,154.56 L73.5,155.16 L73.8,155.08 L74.0,153.59 L74.2,154.62 L74.5,154.84 L74.8,154.88 L75.0,155.47 L75.2,155.48 L75.5,155.29 L75.8,155.41 L76.0,155.91 L76.2,156.09 L76.5,154.21 L76.8,156.73 L77.0,155.10 L77.2,155.94 L77.5,154.50 L77.8,155.20 L78.0,154.78 L78.2,156.23 L78.5,156.14 L78.8,155.63 L79.0,155.55 L79.2,155.92 L79.5,155.14 L79.8,155.38 L80.0,155.32 L80.2,156.33 L80.5,155.91 L80.8,155.17 L81.0,156.23 L81.2,156.40 L81.5,157.00 L81.8,155.87 L82.0,156.52 L82.2,157.59 L82.5,156.16 L82.8,156.16 L83.0,156.70 L83.2,156.08 L83.5,156.36 L83.8,156.02 L84.0,155.81 L84.2,156.76 L84.5,155.93 L84.8,155.47 L85.0,155.83 L85.2,155.82 L85.5,156.00 L85.8,156.28 L86.0,156.68 L86.2,154.74 L86.5,155.22 L86.8,154.15 L87.0,155.27 L87.2,155.30 L87.5,154.40 L87.8,154.04 L88.0,153.76 L88.2,153.20 L88.5,154.24 L88.8,154.75 L89.0,152.62 L89.2,154.04 L89.5,152.71 L89.8,151.67 L90.0,152.61 L90.2,152.47 L90.5,151.98 L90.8,151.32 L91.0,152.22 L91.2,150.76 L91.5,151.05 L91.8,150.78 L92.0,149.57 L92.2,148.72 L92.5,148.52 L92.8,149.06 L93.0,149.26 L93.2,147.70 L93.5,148.09 L93.8,149.20 L94.0,146.92 L94.2,148.04 L94.5,147.72 L94.8,147.73 L95.0,146.09 L95.2,146.93 L95.5,145.61 L95.8,147.00 L96.0,145.39 L96.2,145.87 L96.5,144.88 L96.8,145.17 L97.0,143.87 L97.2,144.69 L97.5,144.60 L97.8,143.94 L98.0,144.64 L98.2,143.59 L98.5,143.55 L98.8,143.09 L99.0,143.63 L99.2,141.78 L99.5,141.71 L99.8,141.43 L100.0,141.62 L100.2,141.09 L100.5,141.13 L100.8,140.50 L101.0,139.71 L101.2,139.70 L101.5,139.72 L101.8,137.79 L102.0,139.77 L102.2,138.31 L102.5,138.18 L102.8,138.31 L103.0,137.74 L103.2,136.77 L103.5,137.28 L103.8,138.03 L104.0,137.60 L104.2,137.50 L104.5,136.21 L104.8,136.22 L105.0,136.80 L105.2,136.89 L105.5,135.83 L105.8,135.05 L106.0,134.30 L106.2,136.19 L106.5,134.24 L106.8,135.28 L107.0,135.40 L107.2,136.67 L107.5,134.63 L107.8,134.28 L108.0,134.50 L108.2,134.41 L108.5,134.85 L108.8,134.41 L109.0,133.52 L109.2,132.69 L109.5,134.18 L109.8,133.58 L110.0,134.86 L110.2,133.19 L110.5,134.12 L110.8,133.55 L111.0,133.46 L111.2,135.03 L111.5,134.10 L111.8,133.89 L112.0,134.47 L112.2,133.57 L112.5,133.89 L112.8,133.82 L113.0,135.55 L113.2,134.66 L113.5,134.98 L113.8,135.43 L114.0,134.77 L114.2,134.94 L114.5,134.17 L114.8,135.62 L115.0,135.63 L115.2,135.36 L115.5,136.53 L115.8,134.84 L116.0,136.38 L116.2,135.44 L116.5,135.77 L116.8,136.53 L117.0,137.68 L117.2,136.31 L117.5,136.62 L117.8,136.68 L118.0,138.89 L118.2,138.17 L118.5,138.31 L118.8,139.55 L119.0,138.65 L119.2,137.41 L119.5,138.63 L119.8,138.43 L120.0,140.67 L120.2,138.77 L120.5,140.09 L120.8,139.83 L121.0,140.14 L121.2,140.70 L121.5,140.89 L121.8,140.83 L122.0,140.78 L122.2,141.44 L122.5,141.49 L122.8,141.85 L123.0,142.77 L123.2,142.86 L123.5,143.50 L123.8,143.28 L124.0,144.84 L124.2,143.39 L124.5,143.41 L124.8,144.85 L125.0,143.96 L125.2,144.65 L125.5,145.37 L125.8,144.89 L126.0,144.93 L126.2,145.97 L126.5,145.80 L126.8,145.51 L127.0,145.37 L127.2,146.18 L127.5,145.68 L127.8,146.48 L128.0,146.65 L128.2,147.81 L128.5,148.38 L128.8,147.77 L129.0,148.17 L129.2,148.03 L129.5,148.12 L129.8,148.98 L130.0,149.86 L130.2,150.06 L130.5,150.39 L130.8,150.11 L131.0,148.82 L131.2,151.34 L131.5,151.83 L131.8,151.80 L132.0,152.03 L132.2,152.38 L132.5,153.59 L132.8,152.35 L133.0,153.34 L133.2,153.09 L133.5,153.22 L133.8,152.93 L134.0,152.99 L134.2,152.70 L134.5,153.95 L134.8,153.57 L135.0,153.19 L135.2,153.62 L135.5,153.51 L135.8,155.40 L136.0,154.39 L136.2,154.76 L136.5,154.07 L136.8,154.32 L137.0,155.75 L137.2,155.07 L137.5,155.47 L137.8,156.59 L138.0,156.85 L138.2,156.07 L138.5,156.04 L138.8,155.97 L139.0,155.74 L139.2,157.27 L139.5,155.34 L139.8,156.13 L140.0,155.07 L140.2,155.55 L140.5,156.66 L140.8,156.76 L141.0,156.73 L141.2,156.36 L141.5,156.15 L141.8,156.26 L142.0,156.36 L142.2,157.27 L142.5,157.48 L142.8,156.83 L143.0,156.19 L143.2,155.91 L143.5,156.65 L143.8,156.29 L144.0,155.25 L144.2,157.21 L144.5,156.31 L144.8,156.07 L145.0,155.69 L145.2,155.65 L145.5,156.71 L145.8,155.52 L146.0,156.12 L146.2,156.41 L146.5,157.11 L146.8,156.28 L147.0,155.83 L147.2,155.52 L147.5,156.27 L147.8,156.30 L148.0,155.35 L148.2,155.93 L148.5,155.41 L148.8,154.43 L149.0,154.75 L149.2,155.81 L149.5,156.14 L149.8,155.59 L150.0,154.97 L150.2,154.58 L150.5,155.29 L150.8,155.09 L151.0,153.81 L151.2,155.16 L151.5,154.25 L151.8,155.05 L152.0,154.91 L152.2,154.98 L152.5,155.13 L152.8,154.84 L153.0,153.69 L153.2,153.65 L153.5,154.88 L153.8,154.48 L154.0,153.15 L154.2,152.84 L154.5,154.61 L154.8,155.41 L155.0,154.53 L155.2,153.85 L155.5,154.17 L155.8,152.32 L156.0,153.42 L156.2,154.70 L156.5,154.65 L156.8,152.83 L157.0,154.94 L157.2,154.59 L157.5,154.90 L157.8,154.25 L158.0,154.45 L158.2,153.84 L158.5,154.78 L158.8,155.20 L159.0,154.13 L159.2,155.04 L159.5,154.57 L159.8,155.66 L160.0,155.74 L160.2,153.77 L160.5,155.65 L160.8,156.13 L161.0,155.29 L161.2,155.64 L161.5,155.82 L161.8,155.34 L162.0,156.13 L162.2,157.32 L162.5,156.80 L162.8,157.62 L163.0,157.46 L163.2,157.77 L163.5,157.28 L163.8,157.88 L164.0,158.85 L164.2,158.71 L164.5,158.19 L164.8,157.76 L165.0,157.83 L165.2,158.76 L165.5,159.11 L165.8,157.91 L166.0,159.42 L166.2,159.74 L166.5,159.95 L166.8,159.67 L167.0,161.69 L167.2,161.05 L167.5,159.91 L167.8,160.57 L168.0,161.77 L168.2,161.85 L168.5,161.87 L168.8,162.02 L169.0,162.16 L169.2,162.27 L169.5,162.16 L169.8,163.41 L170.0,161.56 L170.2,163.08 L170.5,164.55 L170.8,163.54 L171.0,163.53 L171.2,165.70 L171.5,165.42 L171.8,164.93 L172.0,164.91 L172.2,165.38 L172.5,165.56 L172.8,165.87 L173.0,165.81 L173.2,166.85 L173.5,166.40 L173.8,165.86 L174.0,166.41 L174.2,167.44 L174.5,167.03 L174.8,166.34 L175.0,169.02 L175.2,168.60 L175.5,168.19 L175.8,168.35 L176.0,169.19 L176.2,169.91 L176.5,168.85 L176.8,169.68 L177.0,169.21 L177.2,169.98 L177.5,169.24 L177.8,168.99 L178.0,170.35 L178.2,170.42 L178.5,171.08 L178.8,170.38 L179.0,171.82 L179.2,171.19 L179.5,172.25 L179.8,171.25 L180.0,172.56 L180.2,171.75 L180.5,172.04 L180.8,172.72 L181.0,171.19 L181.2,171.79 L181.5,173.77 L181.8,171.86 L182.0,172.65 L182.2,173.46 L182.5,174.20 L182.8,173.14 L183.0,173.69 L183.2,173.07 L183.5,173.68 L183.8,174.71 L184.0,174.42 L184.2,174.34 L184.5,174.77 L184.8,174.72 L185.0,174.87 L185.2,174.67 L185.5,174.40 L185.8,175.54 L186.0,174.52 L186.2,175.97 L186.5,176.77 L186.8,176.49 L187.0,177.09 L187.2,175.10 L187.5,176.00 L187.8,175.43 L188.0,175.58 L188.2,175.07 L188.5,175.47 L188.8,176.85 L189.0,176.84 L189.2,177.24 L189.5,177.29 L189.8,177.17 L190.0,176.27 L190.2,176.79 L190.5,177.41 L190.8,177.82 L191.0,176.91 L191.2,176.92 L191.5,177.05 L191.8,178.40 L192.0,177.85 L192.2,177.40 L192.5,177.21 L192.8,178.04 L193.0,176.82 L193.2,177.80 L193.5,177.67 L193.8,177.75 L194.0,178.32 L194.2,178.53 L194.5,180.23 L194.8,178.50 L195.0,178.94 L195.2,178.09 L195.5,177.64 L195.8,179.44 L196.0,180.02 L196.2,178.26 L196.5,178.90 L196.8,179.70 L197.0,179.14 L197.2,177.66 L197.5,179.83 L197.8,179.19 L198.0,179.79 L198.2,178.81 L198.5,180.01 L198.8,180.17 L199.0,179.14 L199.2,179.96 L199.5,179.32 L199.8,179.46 L200.0,179.28 L200.2,179.63 L200.5,179.54 L200.8,180.74 L201.0,179.94 L201.2,179.45 L201.5,181.05 L201.8,180.59 L202.0,180.93 L202.2,180.34 L202.5,180.87 L202.8,180.43 L203.0,179.96 L203.2,180.68 L203.5,180.76 L203.8,180.81 L204.0,181.31 L204.2,179.78 L204.5,181.09 L204.8,180.47 L205.0,180.85 L205.2,181.36 L205.5,181.18 L205.8,180.79 L206.0,181.73 L206.2,181.29 L206.5,181.97 L206.8,182.21 L207.0,181.30 L207.2,180.90 L207.5,181.69 L207.8,182.21 L208.0,181.96 L208.2,181.11 L208.5,180.85 L208.8,181.37 L209.0,181.43 L209.2,182.45 L209.5,182.17 L209.8,182.73 L210.0,182.19 L210.2,183.33 L210.5,182.36 L210.8,182.75 L211.0,182.21 L211.2,182.79 L211.5,183.23 L211.8,183.09 L212.0,183.45 L212.2,182.34 L212.5,183.04 L212.8,183.86 L213.0,183.01 L213.2,182.80 L213.5,182.81 L213.8,182.68 L214.0,183.14 L214.2,183.95 L214.5,183.42 L214.8,183.18 L215.0,182.76 L215.2,182.60 L215.5,184.80 L215.8,183.11 L216.0,183.51 L216.2,183.20 L216.5,183.66 L216.8,183.35 L217.0,183.73 L217.2,184.60 L217.5,183.32 L217.8,184.15 L218.0,183.85 L218.2,184.38 L218.5,183.59 L218.8,184.31 L219.0,183.52 L219.2,183.06 L219.5,183.43 L219.8,183.71 L220.0,183.66 L220.2,184.20 L220.5,185.13 L220.8,183.82 L221.0,184.85 L221.2,184.72 L221.5,184.26 L221.8,184.18 L222.0,185.06 L222.2,185.15 L222.5,184.71 L222.8,184.88 L223.0,185.03 L223.2,184.29 L223.5,185.21 L223.8,185.38 L224.0,186.32 L224.2,184.53 L224.5,184.83 L224.8,185.46 L225.0,185.11 L225.2,185.27 L225.5,185.57 L225.8,185.44 L226.0,185.64 L226.2,185.98 L226.5,184.78 L226.8,186.14 L227.0,184.49 L227.2,186.92 L227.5,186.50 L227.8,185.62 L228.0,186.65 L228.2,185.99 L228.5,186.38 L228.8,186.62 L229.0,186.42 L229.2,186.26 L229.5,186.67 L229.8,186.23 L230.0,186.16 L230.2,185.85 L230.5,185.38 L230.8,187.47 L231.0,187.02 L231.2,185.75 L231.5,186.87 L231.8,186.80 L232.0,185.39 L232.2,186.25 L232.5,186.73 L232.8,187.87 L233.0,187.53 L233.2,187.67 L233.5,187.14 L233.8,187.59 L234.0,186.32 L234.2,187.44 L234.5,187.54 L234.8,186.38 L235.0,187.33 L235.2,188.13 L235.5,188.41 L235.8,188.14 L236.0,186.90 L236.2,187.31 L236.5,187.09 L236.8,188.17 L237.0,186.96 L237.2,186.87 L237.5,186.56 L237.8,187.69 L238.0,187.87 L238.2,187.28 L238.5,187.22 L238.8,187.59 L239.0,188.55 L239.2,186.96 L239.5,187.78 L239.8,187.96 L240.0,188.09 L240.2,188.66 L240.5,188.43 L240.8,188.13 L241.0,188.87 L241.2,188.71 L241.5,188.23 L241.8,188.23 L242.0,187.41 L242.2,188.23 L242.5,187.71 L242.8,187.52 L243.0,188.07 L243.2,187.23 L243.5,187.76 L243.8,188.01 L244.0,188.55 L244.2,188.18 L244.5,188.64 L244.8,189.38 L245.0,188.94 L245.2,187.78 L245.5,187.43 L245.8,187.98 L246.0,188.02 L246.2,187.38 L246.5,187.57 L246.8,187.59 L247.0,188.28 L247.2,189.52 L247.5,189.71 L247.8,188.09 L248.0,188.45 L248.2,187.92 L248.5,187.79 L248.8,188.74 L249.0,188.83 L249.2,188.45 L249.5,189.22 L249.8,188.66 L250.0,189.54 L250.2,188.60 L250.5,189.44 L250.8,188.82 L251.0,189.04 L251.2,189.36 L251.5,188.20 L251.8,188.58 L252.0,189.00 L252.2,188.90 L252.5,189.24 L252.8,188.62 L253.0,188.32 L253.2,189.08 L253.5,189.33 L253.8,188.70 L254.0,189.93 L254.2,189.64 L254.5,189.75 L254.8,189.73 L255.0,188.77 L255.2,190.58 L255.5,188.90 L255.8,189.58 L256.0,189.81 L256.2,189.60 L256.5,189.54 L256.8,188.96 L257.0,189.23 L257.2,189.51 L257.5,190.30 L257.8,189.15 L258.0,189.98 L258.2,189.85 L258.5,189.66 L258.8,189.30 L259.0,189.57 L259.2,188.64 L259.5,189.77 L259.8,189.92 L260.0,189.44 L260.2,190.09 L260.5,189.99 L260.8,189.39 L261.0,190.35 L261.2,189.55 L261.5,191.34 L261.8,189.30 L262.0,189.45 L262.2,189.57 L262.5,190.12 L262.8,190.69 L263.0,190.07 L263.2,189.80 L263.5,191.20 L263.8,190.69 L264.0,189.93 L264.2,190.05 L264.5,189.22 L264.8,190.18 L265.0,191.21 L265.2,189.50 L265.5,189.37 L265.8,190.32 L266.0,188.82 L266.2,191.11 L266.5,189.39 L266.8,189.88 L267.0,190.23 L267.2,191.07 L267.5,190.60 L267.8,189.24 L268.0,189.38 L268.2,190.54 L268.5,189.17 L268.8,190.27 L269.0,189.97 L269.2,190.96 L269.5,191.22 L269.8,189.00 L270.0,190.78 L270.2,190.93 L270.5,190.10 L270.8,190.21 L271.0,189.87 L271.2,190.40 L271.5,190.86 L271.8,191.44 L272.0,191.52 L272.2,190.50 L272.5,190.19 L272.8,191.30 L273.0,189.07 L273.2,189.90 L273.5,191.14 L273.8,192.11 L274.0,190.32 L274.2,190.87 L274.5,190.16 L274.8,190.80 L275.0,190.81 L275.2,190.43 L275.5,191.13 L275.8,190.81 L276.0,191.24 L276.2,190.83 L276.5,190.25 L276.8,191.07 L277.0,191.52 L277.2,190.55 L277.5,191.84 L277.8,191.33 L278.0,190.86 L278.2,191.11 L278.5,190.85 L278.8,190.58 L279.0,191.68 L279.2,191.69 L279.5,190.89 L279.8,191.07 L280.0,191.07 L280.2,191.62 L280.5,192.10 L280.8,190.83 L281.0,191.43 L281.2,191.24 L281.5,191.60 L281.8,192.15 L282.0,190.77 L282.2,190.06 L282.5,191.21 L282.8,190.36 L283.0,192.34 L283.2,190.92 L283.5,191.18 L283.8,191.51 L284.0,191.49 L284.2,191.12 L284.5,191.39 L284.8,191.96 L285.0,191.22 L285.2,192.52 L285.5,191.63 L285.8,190.01 L286.0,191.97 L286.2,190.39 L286.5,191.65 L286.8,192.81 L287.0,192.11 L287.2,190.79 L287.5,190.99 L287.8,191.50 L288.0,192.36 L288.2,191.06 L288.5,192.17 L288.8,191.70 L289.0,191.46 L289.2,191.43 L289.5,192.54 L289.8,190.63 L290.0,190.86 L290.2,192.09 L290.5,192.15 L290.8,190.78 L291.0,191.02 L291.2,190.89 L291.5,191.92 L291.8,191.20 L292.0,192.46 L292.2,192.07 L292.5,191.78 L292.8,191.75 L293.0,191.96 L293.2,192.15 L293.5,191.66 L293.8,191.81 L294.0,192.14 L294.2,191.63 L294.5,192.28 L294.8,191.61 L295.0,191.24 L295.2,191.82 L295.5,192.71 L295.8,192.63 L296.0,190.77 L296.2,191.93 L296.5,191.45 L296.8,191.56 L297.0,191.56 L297.2,191.63 L297.5,191.47 L297.8,191.62 L298.0,191.93 L298.2,191.08 L298.5,191.07 L298.8,191.15 L299.0,191.15 L299.2,192.20 L299.5,191.18 L299.8,191.81 L300.0,191.90 L300.2,192.30 L300.5,191.90 L300.8,192.53 L301.0,191.87 L301.2,192.06 L301.5,192.38 L301.8,191.05 L302.0,192.17 L302.2,192.86 L302.5,192.03 L302.8,191.82 L303.0,193.12 L303.2,192.05 L303.5,192.74 L303.8,190.58 L304.0,192.08 L304.2,191.73 L304.5,192.27 L304.8,192.76 L305.0,191.97 L305.2,191.93 L305.5,190.39 L305.8,192.56 L306.0,192.90 L306.2,192.20 L306.5,191.83 L306.8,192.35 L307.0,192.76 L307.2,192.54 L307.5,193.41 L307.8,191.84 L308.0,191.37 L308.2,192.49 L308.5,192.97 L308.8,191.94 L309.0,192.23 L309.2,191.85 L309.5,191.50 L309.8,191.82 L310.0,191.03 L310.2,192.45 L310.5,192.57 L310.8,192.84 L311.0,191.82 L311.2,191.94 L311.5,191.33 L311.8,191.47 L312.0,192.89 L312.2,194.07 L312.5,191.75 L312.8,192.16 L313.0,192.97 L313.2,192.00 L313.5,192.78 L313.8,192.26 L314.0,192.28 L314.2,193.01 L314.5,192.33 L314.8,191.73 L315.0,193.00 L315.2,192.53 L315.5,192.20 L315.8,192.06 L316.0,192.91 L316.2,192.14 L316.5,192.66 L316.8,193.20 L317.0,192.55 L317.2,193.28 L317.5,191.81 L317.8,193.02 L318.0,192.98 L318.2,193.80 L318.5,192.71 L318.8,193.24 L319.0,192.63 L319.2,192.10 L319.5,192.22 L319.8,192.34 L320.0,193.25 L320.2,192.33 L320.5,192.83 L320.8,193.36 L321.0,193.58 L321.2,193.42 L321.5,193.76 L321.8,192.20 L322.0,192.60 L322.2,193.10 L322.5,193.60 L322.8,193.25 L323.0,192.50 L323.2,192.86 L323.5,192.00 L323.8,193.49 L324.0,191.95 L324.2,193.17 L324.5,193.70 L324.8,193.61 L325.0,192.12 L325.2,193.23 L325.5,192.91 L325.8,192.95 L326.0,194.13 L326.2,193.34 L326.5,192.32 L326.8,192.55 L327.0,193.64 L327.2,193.37 L327.5,192.57 L327.8,192.26 L328.0,192.95 L328.2,193.03 L328.5,193.80 L328.8,192.96 L329.0,193.75 L329.2,194.09 L329.5,192.42 L329.8,193.04 L330.0,194.34 L330.2,193.16 L330.5,193.44 L330.8,194.04 L331.0,193.02 L331.2,193.25 L331.5,192.52 L331.8,193.86 L332.0,193.25 L332.2,193.34 L332.5,192.04 L332.8,194.18 L333.0,194.03 L333.2,193.16 L333.5,194.39 L333.8,192.20 L334.0,193.64 L334.2,192.69 L334.5,195.36 L334.8,192.17 L335.0,193.02 L335.2,193.32 L335.5,194.27 L335.8,194.31 L336.0,194.06 L336.2,193.70 L336.5,195.15 L336.8,193.45 L337.0,194.09 L337.2,194.97 L337.5,193.20 L337.8,193.47 L338.0,194.64 L338.2,194.27 L338.5,193.23 L338.8,194.06 L339.0,195.21 L339.2,193.92 L339.5,194.58 L339.8,194.19 L340.0,193.72 L340.2,195.13 L340.5,194.76 L340.8,194.92 L341.0,194.13 L341.2,194.30 L341.5,194.39 L341.8,194.55 L342.0,194.09 L342.2,194.01 L342.5,195.13 L342.8,193.70 L343.0,194.11 L343.2,194.17 L343.5,194.11 L343.8,193.71 L344.0,194.00 L344.2,194.97 L344.5,194.29 L344.8,194.08 L345.0,195.55"/>
<path stroke="#000000" stroke-width="1.75" d="M36.0,221.57 L36.2,222.73 L36.5,221.90 L36.8,220.39 L37.0,220.62 L37.2,220.19 L37.5,220.83 L37.8,220.14 L38.0,218.95 L38.2,218.03 L38.5,217.45 L38.8,218.23 L39.0,217.24 L39.2,217.87 L39.5,217.70 L39.8,217.94 L40.0,218.21 L40.2,217.51 L40.5,217.63 L40.8,217.09 L41.0,217.78 L41.2,217.52 L41.5,217.91 L41.8,217.66 L42.0,216.18 L42.2,215.60 L42.5,216.87 L42.8,217.11 L43.0,215.85 L43.2,217.21 L43.5,216.24 L43.8,216.09 L44.0,216.36 L44.2,215.19 L44.5,215.02 L44.8,215.85 L45.0,215.30 L45.2,216.04 L45.5,216.04 L45.8,214.36 L46.0,215.50 L46.2,216.36 L46.5,214.50 L46.8,215.78 L47.0,215.11 L47.2,214.71 L47.5,216.71 L47.8,216.67 L48.0,215.68 L48.2,215.62 L48.5,216.83 L48.8,216.69 L49.0,215.88 L49.2,216.42 L49.5,215.88 L49.8,215.56 L50.0,216.11 L50.2,215.37 L50.5,215.97 L50.8,215.36 L51.0,215.15 L51.2,215.00 L51.5,215.59 L51.8,215.82 L52.0,215.41 L52.2,214.49 L52.5,215.37 L52.8,214.31 L53.0,214.08 L53.2,214.61 L53.5,215.19 L53.8,215.05 L54.0,214.90 L54.2,215.36 L54.5,214.96 L54.8,214.10 L55.0,214.77 L55.2,214.02 L55.5,214.38 L55.8,214.44 L56.0,213.94 L56.2,212.95 L56.5,213.76 L56.8,213.58 L57.0,213.64 L57.2,213.37 L57.5,212.84 L57.8,212.45 L58.0,213.85 L58.2,213.86 L58.5,213.52 L58.8,213.17 L59.0,214.40 L59.2,213.49 L59.5,213.00 L59.8,213.45 L60.0,212.80 L60.2,213.23 L60.5,212.88 L60.8,212.97 L61.0,212.58 L61.2,212.16 L61.5,212.69 L61.8,212.99 L62.0,211.57 L62.2,211.70 L62.5,211.20 L62.8,212.31 L63.0,211.44 L63.2,211.98 L63.5,210.71 L63.8,211.57 L64.0,210.48 L64.2,210.37 L64.5,210.84 L64.8,210.07 L65.0,209.79 L65.2,210.60 L65.5,209.85 L65.8,210.56 L66.0,211.26 L66.2,209.14 L66.5,209.15 L66.8,208.27 L67.0,208.36 L67.2,209.39 L67.5,209.07 L67.8,208.93 L68.0,208.92 L68.2,207.96 L68.5,207.29 L68.8,208.96 L69.0,208.30 L69.2,208.75 L69.5,207.88 L69.8,208.27 L70.0,207.32 L70.2,207.53 L70.5,207.29 L70.8,207.50 L71.0,208.02 L71.2,207.39 L71.5,204.96 L71.8,206.59 L72.0,206.50 L72.2,206.85 L72.5,206.25 L72.8,205.54 L73.0,205.32 L73.2,205.43 L73.5,205.03 L73.8,206.23 L74.0,205.54 L74.2,205.01 L74.5,205.43 L74.8,206.02 L75.0,204.33 L75.2,204.27 L75.5,203.92 L75.8,203.16 L76.0,203.38 L76.2,203.02 L76.5,203.77 L76.8,203.60 L77.0,203.73 L77.2,202.54 L77.5,203.54 L77.8,202.14 L78.0,202.53 L78.2,203.35 L78.5,203.19 L78.8,202.98 L79.0,203.51 L79.2,202.70 L79.5,201.74 L79.8,201.62 L80.0,201.12 L80.2,201.61 L80.5,200.81 L80.8,200.73 L81.0,200.33 L81.2,199.71 L81.5,202.23 L81.8,201.06 L82.0,199.02 L82.2,200.53 L82.5,199.79 L82.8,198.71 L83.0,199.90 L83.2,200.13 L83.5,200.33 L83.8,200.63 L84.0,199.35 L84.2,199.83 L84.5,200.27 L84.8,200.16 L85.0,200.03 L85.2,199.82 L85.5,200.51 L85.8,198.86 L86.0,198.66 L86.2,200.68 L86.5,199.77 L86.8,200.14 L87.0,199.50 L87.2,199.06 L87.5,198.94 L87.8,199.27 L88.0,198.84 L88.2,199.08 L88.5,199.06 L88.8,199.67 L89.0,199.74 L89.2,200.38 L89.5,199.03 L89.8,199.59 L90.0,200.34 L90.2,200.03 L90.5,198.31 L90.8,200.17 L91.0,200.00 L91.2,199.76 L91.5,199.85 L91.8,199.71 L92.0,200.98 L92.2,200.73 L92.5,200.48 L92.8,201.12 L93.0,201.07 L93.2,200.01 L93.5,199.94 L93.8,200.05 L94.0,201.27 L94.2,200.88 L94.5,201.77 L94.8,201.45 L95.0,201.11 L95.2,200.57 L95.5,201.35 L95.8,203.10 L96.0,201.39 L96.2,201.48 L96.5,202.05 L96.8,203.26 L97.0,202.61 L97.2,202.21 L97.5,202.85 L97.8,203.49 L98.0,203.97 L98.2,204.91 L98.5,206.18 L98.8,205.77 L99.0,205.58 L99.2,205.40 L99.5,205.11 L99.8,206.20 L100.0,206.84 L100.2,206.74 L100.5,206.31 L100.8,206.99 L101.0,206.58 L101.2,206.77 L101.5,206.86 L101.8,207.19 L102.0,207.21 L102.2,208.01 L102.5,207.46 L102.8,207.48 L103.0,208.29 L103.2,208.14 L103.5,208.50 L103.8,207.39 L104.0,208.81 L104.2,208.08 L104.5,207.54 L104.8,208.25 L105.0,207.74 L105.2,208.07 L105.5,208.64 L105.8,209.72 L106.0,208.47 L106.2,209.72 L106.5,209.58 L106.8,210.94 L107.0,210.26 L107.2,210.71 L107.5,211.42 L107.8,210.03 L108.0,210.72 L108.2,210.19 L108.5,210.80 L108.8,211.71 L109.0,211.57 L109.2,212.08 L109.5,211.69 L109.8,211.60 L110.0,212.02 L110.2,211.62 L110.5,211.52 L110.8,211.26 L111.0,212.22 L111.2,212.62 L111.5,211.61 L111.8,212.14 L112.0,211.04 L112.2,211.81 L112.5,212.70 L112.8,211.95 L113.0,213.17 L113.2,212.80 L113.5,213.46 L113.8,213.08 L114.0,212.76 L114.2,213.90 L114.5,214.75 L114.8,214.62 L115.0,215.93 L115.2,215.89 L115.5,216.50 L115.8,217.50 L116.0,216.45 L116.2,215.52 L116.5,216.10 L116.8,215.54 L117.0,215.13 L117.2,215.91 L117.5,213.69 L117.8,215.93 L118.0,216.83 L118.2,215.90 L118.5,214.61 L118.8,216.75 L119.0,217.59 L119.2,216.48 L119.5,215.56 L119.8,215.93 L120.0,216.39 L120.2,216.71 L120.5,217.46 L120.8,217.22 L121.0,215.62 L121.2,217.01 L121.5,217.30 L121.8,218.75 L122.0,217.44 L122.2,217.16 L122.5,218.08 L122.8,218.69 L123.0,217.67 L123.2,219.85 L123.5,219.51 L123.8,220.55 L124.0,220.91 L124.2,221.25 L124.5,222.17 L124.8,222.65 L125.0,221.63 L125.2,222.07 L125.5,222.97 L125.8,222.62 L126.0,222.34 L126.2,222.94 L126.5,222.53 L126.8,222.91 L127.0,221.26 L127.2,223.59 L127.5,224.77 L127.8,224.21 L128.0,224.31 L128.2,224.12 L128.5,223.68 L128.8,224.57 L129.0,224.44 L129.2,224.48 L129.5,224.88 L129.8,224.57 L130.0,225.20"/>
<path stroke="#000000" stroke-width="1.55" d="M130.0,225.52 L130.2,225.95 L130.5,225.65 L130.8,226.28 L131.0,226.12 L131.2,224.85 L131.5,225.25 L131.8,226.47 L132.0,226.07 L132.2,227.21 L132.5,226.19 L132.8,226.85 L133.0,226.87 L133.2,226.86 L133.5,227.05 L133.8,227.47 L134.0,227.63 L134.2,227.34 L134.5,227.84 L134.8,228.12 L135.0,227.76 L135.2,227.53 L135.5,227.59 L135.8,227.77 L136.0,227.79 L136.2,228.20 L136.5,229.79 L136.8,228.90 L137.0,228.30 L137.2,228.67 L137.5,228.71 L137.8,229.15 L138.0,229.28 L138.2,227.92 L138.5,229.83 L138.8,228.07 L139.0,228.67 L139.2,228.18 L139.5,227.73 L139.8,227.73 L140.0,229.97 L140.2,229.73 L140.5,228.34 L140.8,228.30 L141.0,229.84 L141.2,228.44 L141.5,229.28 L141.8,230.20 L142.0,229.46 L142.2,229.88 L142.5,229.13 L142.8,228.02 L143.0,228.51 L143.2,227.94 L143.5,229.14 L143.8,228.18 L144.0,228.98 L144.2,228.60 L144.5,228.47 L144.8,229.14 L145.0,228.55 L145.2,228.32 L145.5,229.34 L145.8,228.71 L146.0,227.85 L146.2,229.32 L146.5,227.79 L146.8,228.67 L147.0,228.79 L147.2,228.29 L147.5,227.91 L147.8,228.15 L148.0,228.08 L148.2,227.61 L148.5,228.67 L148.8,227.80 L149.0,227.69 L149.2,228.83 L149.5,227.60 L149.8,227.11 L150.0,227.89 L150.2,227.89 L150.5,227.86 L150.8,228.97 L151.0,227.44 L151.2,228.46 L151.5,228.16 L151.8,228.42 L152.0,227.51 L152.2,227.33 L152.5,227.34 L152.8,227.57 L153.0,227.87 L153.2,228.19 L153.5,226.23 L153.8,227.73 L154.0,227.28 L154.2,227.03 L154.5,226.36 L154.8,227.04 L155.0,225.78 L155.2,227.39 L155.5,226.11 L155.8,226.46 L156.0,226.35 L156.2,226.66 L156.5,225.52 L156.8,226.60 L157.0,226.27 L157.2,226.78 L157.5,226.00 L157.8,225.66 L158.0,224.59 L158.2,225.32 L158.5,226.31 L158.8,225.06 L159.0,224.93 L159.2,225.00 L159.5,225.41 L159.8,223.87 L160.0,225.67 L160.2,224.89 L160.5,224.84 L160.8,224.34 L161.0,225.31 L161.2,223.93 L161.5,224.53 L161.8,224.09 L162.0,223.33 L162.2,223.90 L162.5,224.33 L162.8,223.77 L163.0,223.68 L163.2,223.86 L163.5,223.39 L163.8,223.25 L164.0,223.86 L164.2,223.32 L164.5,224.12 L164.8,224.20 L165.0,224.54 L165.2,224.43 L165.5,223.85 L165.8,224.31 L166.0,223.60 L166.2,224.54 L166.5,224.18 L166.8,225.29 L167.0,224.36 L167.2,224.96 L167.5,224.62 L167.8,225.48 L168.0,225.63 L168.2,224.92 L168.5,226.58 L168.8,225.94 L169.0,225.08 L169.2,225.47 L169.5,225.12 L169.8,225.15 L170.0,226.24 L170.2,225.37 L170.5,226.77 L170.8,225.87 L171.0,226.65 L171.2,227.85 L171.5,226.94 L171.8,227.25 L172.0,228.04 L172.2,227.40 L172.5,228.00 L172.8,227.48 L173.0,227.88 L173.2,228.31 L173.5,228.43 L173.8,228.22 L174.0,228.90 L174.2,229.26 L174.5,229.45 L174.8,229.31 L175.0,228.97 L175.2,229.92 L175.5,230.14 L175.8,229.35 L176.0,228.81 L176.2,229.98 L176.5,230.69 L176.8,230.73 L177.0,229.82 L177.2,231.17 L177.5,230.17 L177.8,231.17 L178.0,230.61 L178.2,231.39 L178.5,231.26 L178.8,231.00 L179.0,231.57 L179.2,230.99 L179.5,231.23 L179.8,231.36 L180.0,231.19 L180.2,232.15 L180.5,232.25 L180.8,231.89 L181.0,231.51 L181.2,232.30 L181.5,232.30 L181.8,232.56 L182.0,232.35 L182.2,232.34 L182.5,233.21 L182.8,232.34 L183.0,232.64 L183.2,231.97 L183.5,232.74 L183.8,232.78 L184.0,232.94 L184.2,233.47 L184.5,232.99 L184.8,233.57 L185.0,233.27 L185.2,233.32 L185.5,232.73 L185.8,233.87 L186.0,234.05 L186.2,233.35 L186.5,233.60 L186.8,233.09 L187.0,233.84 L187.2,233.55 L187.5,234.30 L187.8,234.13 L188.0,234.53 L188.2,233.92 L188.5,233.58 L188.8,234.40 L189.0,234.23 L189.2,235.42 L189.5,234.75 L189.8,235.38 L190.0,235.03 L190.2,234.71 L190.5,234.23 L190.8,234.89 L191.0,235.35 L191.2,235.17 L191.5,235.35 L191.8,235.41 L192.0,234.72 L192.2,235.53 L192.5,235.08 L192.8,235.48 L193.0,236.18 L193.2,234.72 L193.5,235.55 L193.8,235.87 L194.0,236.25 L194.2,235.85 L194.5,235.49 L194.8,236.26 L195.0,236.21 L195.2,235.21 L195.5,236.07 L195.8,235.32 L196.0,234.95 L196.2,235.73 L196.5,235.79 L196.8,235.30 L197.0,237.12 L197.2,235.75 L197.5,236.54 L197.8,236.73 L198.0,237.41 L198.2,236.34 L198.5,237.24 L198.8,236.06 L199.0,236.59 L199.2,236.46 L199.5,236.23 L199.8,236.85 L200.0,237.58 L200.2,237.70 L200.5,237.10 L200.8,236.34 L201.0,236.51 L201.2,237.16 L201.5,237.18 L201.8,237.20 L202.0,236.87 L202.2,236.62 L202.5,237.24 L202.8,237.06 L203.0,237.71 L203.2,236.82 L203.5,237.51 L203.8,237.76 L204.0,238.05 L204.2,238.06 L204.5,236.81 L204.8,236.77 L205.0,237.36 L205.2,236.95 L205.5,236.33 L205.8,238.00 L206.0,237.60 L206.2,237.85 L206.5,237.52 L206.8,237.96 L207.0,237.60 L207.2,237.57 L207.5,238.34 L207.8,237.07 L208.0,237.81 L208.2,236.94 L208.5,238.25 L208.8,237.55 L209.0,237.16 L209.2,236.93 L209.5,237.62 L209.8,238.56 L210.0,237.97 L210.2,237.14 L210.5,236.96 L210.8,239.00 L211.0,237.62 L211.2,237.27 L211.5,237.96 L211.8,238.17 L212.0,238.60 L212.2,237.90 L212.5,237.71 L212.8,238.31 L213.0,237.73 L213.2,238.23 L213.5,238.19 L213.8,238.54 L214.0,237.88 L214.2,237.92 L214.5,238.34 L214.8,238.44 L215.0,237.68 L215.2,237.98 L215.5,238.40 L215.8,238.21 L216.0,239.31 L216.2,238.71 L216.5,238.95 L216.8,238.44 L217.0,238.54 L217.2,238.58 L217.5,238.99 L217.8,238.46 L218.0,239.25 L218.2,238.36 L218.5,239.08 L218.8,238.82 L219.0,238.60 L219.2,239.40 L219.5,239.19 L219.8,238.76 L220.0,238.56 L220.2,239.22 L220.5,238.61 L220.8,239.16 L221.0,238.63 L221.2,239.05 L221.5,238.71 L221.8,239.00 L222.0,239.74 L222.2,239.80 L222.5,238.98 L222.8,239.09 L223.0,238.58 L223.2,239.37 L223.5,239.71 L223.8,238.99 L224.0,238.99 L224.2,239.51 L224.5,239.19 L224.8,239.51 L225.0,240.06 L225.2,239.68 L225.5,239.79 L225.8,240.28 L226.0,239.70 L226.2,239.90 L226.5,239.70 L226.8,239.43 L227.0,240.35 L227.2,239.26 L227.5,239.85 L227.8,239.42 L228.0,239.58 L228.2,239.44 L228.5,239.86 L228.8,240.16 L229.0,240.50 L229.2,239.36 L229.5,240.17 L229.8,239.98 L230.0,239.93 L230.2,240.15 L230.5,240.30 L230.8,240.22 L231.0,240.29 L231.2,241.11 L231.5,240.39 L231.8,240.51 L232.0,240.00 L232.2,240.83 L232.5,240.28 L232.8,240.47 L233.0,240.25 L233.2,240.52 L233.5,240.25 L233.8,240.15 L234.0,240.13 L234.2,240.52 L234.5,240.68 L234.8,240.95 L235.0,241.30 L235.2,241.39 L235.5,240.54 L235.8,240.53 L236.0,241.06 L236.2,240.51 L236.5,241.22 L236.8,241.21 L237.0,240.54 L237.2,241.15 L237.5,241.40 L237.8,241.08 L238.0,240.85 L238.2,240.90 L238.5,241.14 L238.8,240.74 L239.0,241.12 L239.2,240.95 L239.5,240.79 L239.8,240.73 L240.0,241.26 L240.2,240.78 L240.5,241.17 L240.8,240.49 L241.0,241.06 L241.2,241.18 L241.5,241.27 L241.8,241.48 L242.0,241.36 L242.2,241.38 L242.5,241.12 L242.8,240.88 L243.0,240.86 L243.2,241.00 L243.5,241.35 L243.8,241.61 L244.0,241.41 L244.2,241.38 L244.5,241.57 L244.8,241.23 L245.0,241.41 L245.2,241.33 L245.5,241.45 L245.8,241.33 L246.0,241.00 L246.2,241.31 L246.5,241.19 L246.8,242.01 L247.0,241.93 L247.2,241.30 L247.5,241.24 L247.8,241.53 L248.0,241.07 L248.2,241.95 L248.5,241.56 L248.8,241.45 L249.0,241.94 L249.2,242.03 L249.5,241.69 L249.8,241.97 L250.0,241.16 L250.2,241.46 L250.5,241.45 L250.8,241.23 L251.0,242.01 L251.2,242.49 L251.5,241.37 L251.8,241.62 L252.0,242.13 L252.2,241.74 L252.5,241.84 L252.8,241.62 L253.0,241.97 L253.2,241.60 L253.5,242.13 L253.8,242.08 L254.0,242.05 L254.2,241.72 L254.5,241.90 L254.8,242.12 L255.0,241.73 L255.2,241.72 L255.5,241.35 L255.8,241.87 L256.0,242.00 L256.2,242.33 L256.5,241.72 L256.8,241.66 L257.0,242.44 L257.2,242.42 L257.5,241.78 L257.8,241.98 L258.0,241.61 L258.2,242.12 L258.5,242.52 L258.8,242.39 L259.0,241.87 L259.2,242.27 L259.5,241.99 L259.8,242.30 L260.0,242.06 L260.2,242.41 L260.5,242.60 L260.8,242.34 L261.0,242.36 L261.2,242.38 L261.5,242.53 L261.8,242.18 L262.0,242.26 L262.2,242.27 L262.5,242.69 L262.8,242.38 L263.0,242.50 L263.2,242.26 L263.5,241.99 L263.8,242.29 L264.0,242.51 L264.2,242.31 L264.5,242.25 L264.8,242.31 L265.0,242.56 L265.2,242.54 L265.5,242.43 L265.8,242.19 L266.0,242.26 L266.2,243.41 L266.5,242.41 L266.8,242.63 L267.0,242.55 L267.2,242.11 L267.5,242.83 L267.8,242.50 L268.0,242.25 L268.2,242.69 L268.5,242.35 L268.8,242.58 L269.0,242.15 L269.2,242.45 L269.5,242.67 L269.8,242.38 L270.0,242.14 L270.2,242.29 L270.5,242.67 L270.8,242.09 L271.0,242.14 L271.2,242.69 L271.5,242.52 L271.8,242.48 L272.0,242.38 L272.2,242.59 L272.5,242.70 L272.8,242.60 L273.0,242.04 L273.2,242.65 L273.5,242.06 L273.8,242.92 L274.0,242.36 L274.2,242.63 L274.5,242.56 L274.8,242.31 L275.0,242.77 L275.2,242.52 L275.5,243.01 L275.8,242.63 L276.0,242.54 L276.2,243.10 L276.5,242.81 L276.8,242.45 L277.0,242.24 L277.2,242.94 L277.5,242.76 L277.8,242.75 L278.0,242.35 L278.2,242.27 L278.5,242.20 L278.8,242.71 L279.0,242.38 L279.2,242.58 L279.5,241.85 L279.8,242.66 L280.0,242.21 L280.2,241.69 L280.5,242.05 L280.8,242.48 L281.0,242.76 L281.2,241.65 L281.5,242.00 L281.8,242.38 L282.0,241.94 L282.2,242.22 L282.5,242.06 L282.8,242.34 L283.0,241.93 L283.2,242.21 L283.5,242.08 L283.8,242.32 L284.0,242.26 L284.2,242.54 L284.5,242.33 L284.8,242.72 L285.0,241.84 L285.2,242.19 L285.5,242.45 L285.8,242.27 L286.0,241.55 L286.2,242.31 L286.5,242.09 L286.8,242.85 L287.0,242.18 L287.2,242.38 L287.5,241.95 L287.8,242.37 L288.0,241.46 L288.2,241.91 L288.5,242.06 L288.8,241.74 L289.0,242.40 L289.2,242.14 L289.5,242.56 L289.8,241.75 L290.0,241.89 L290.2,242.26 L290.5,241.95 L290.8,242.29 L291.0,242.23 L291.2,241.85 L291.5,242.06 L291.8,242.16 L292.0,242.07 L292.2,241.94 L292.5,241.85 L292.8,241.90 L293.0,242.21 L293.2,242.47 L293.5,241.55 L293.8,241.64 L294.0,241.85 L294.2,242.25 L294.5,241.63 L294.8,242.45 L295.0,242.42 L295.2,241.19 L295.5,241.97 L295.8,241.94 L296.0,241.65 L296.2,241.26 L296.5,241.81 L296.8,241.61 L297.0,242.01 L297.2,241.83 L297.5,241.42 L297.8,242.17 L298.0,242.12 L298.2,242.01 L298.5,241.62 L298.8,241.83 L299.0,241.60 L299.2,241.40 L299.5,241.03 L299.8,241.57 L300.0,240.95 L300.2,241.63 L300.5,241.06 L300.8,241.45 L301.0,241.29 L301.2,241.04 L301.5,241.05 L301.8,241.14 L302.0,241.67 L302.2,241.36 L302.5,241.17 L302.8,241.45 L303.0,240.91 L303.2,240.82 L303.5,240.98 L303.8,241.49 L304.0,241.14 L304.2,241.26 L304.5,241.27 L304.8,241.14 L305.0,241.59 L305.2,241.47 L305.5,241.08 L305.8,241.05 L306.0,241.33 L306.2,241.13 L306.5,241.39 L306.8,241.61 L307.0,241.46 L307.2,241.52 L307.5,241.37 L307.8,241.31 L308.0,241.28 L308.2,241.92 L308.5,241.40 L308.8,241.65 L309.0,241.68 L309.2,241.80 L309.5,241.62 L309.8,241.32 L310.0,242.33 L310.2,241.53 L310.5,242.01 L310.8,241.60 L311.0,242.10 L311.2,241.68 L311.5,242.45 L311.8,242.16 L312.0,241.66 L312.2,242.56 L312.5,241.65 L312.8,242.10 L313.0,242.52 L313.2,242.16 L313.5,242.64 L313.8,242.34 L314.0,242.20 L314.2,242.73 L314.5,242.44 L314.8,242.33 L315.0,242.73 L315.2,242.43 L315.5,242.16 L315.8,242.35 L316.0,243.23 L316.2,243.20 L316.5,242.20 L316.8,242.84 L317.0,242.98 L317.2,242.60 L317.5,242.87 L317.8,242.44 L318.0,242.64 L318.2,243.02 L318.5,242.75 L318.8,242.74 L319.0,242.73 L319.2,242.45 L319.5,242.56 L319.8,242.70 L320.0,242.83 L320.2,242.64 L320.5,243.40 L320.8,242.44 L321.0,242.64 L321.2,242.77 L321.5,243.10 L321.8,242.58 L322.0,243.06 L322.2,242.77 L322.5,242.81 L322.8,243.15 L323.0,243.27 L323.2,243.34 L323.5,242.77 L323.8,243.38 L324.0,243.40 L324.2,243.22 L324.5,243.27 L324.8,243.18 L325.0,243.14 L325.2,243.43 L325.5,243.67 L325.8,243.17 L326.0,243.35 L326.2,243.52 L326.5,242.91 L326.8,243.74 L327.0,243.41 L327.2,243.72 L327.5,243.27 L327.8,243.13 L328.0,243.34 L328.2,243.47 L328.5,243.16 L328.8,243.67 L329.0,243.51 L329.2,243.17 L329.5,243.60 L329.8,243.44 L330.0,243.51 L330.2,243.41 L330.5,243.33 L330.8,243.21 L331.0,243.59 L331.2,243.58 L331.5,243.71 L331.8,243.41 L332.0,243.73 L332.2,243.85 L332.5,243.32 L332.8,243.70 L333.0,244.25 L333.2,243.54 L333.5,243.60 L333.8,243.68 L334.0,243.56 L334.2,243.94 L334.5,243.70 L334.8,243.70 L335.0,243.53 L335.2,243.90 L335.5,243.74 L335.8,243.66 L336.0,243.70 L336.2,244.22 L336.5,243.80 L336.8,243.89 L337.0,244.19 L337.2,243.81 L337.5,244.10 L337.8,243.59 L338.0,244.05 L338.2,243.32 L338.5,243.93 L338.8,243.79 L339.0,243.73 L339.2,244.22 L339.5,244.14 L339.8,244.19 L340.0,244.38 L340.2,244.13 L340.5,244.16 L340.8,244.01 L341.0,244.54 L341.2,244.30 L341.5,243.87 L341.8,243.87 L342.0,243.92 L342.2,243.94 L342.5,244.50 L342.8,244.26 L343.0,244.49 L343.2,244.03 L343.5,244.05 L343.8,244.60 L344.0,243.77 L344.2,244.01 L344.5,243.79 L344.8,244.19 L345.0,245.08"/>
</g>
<g stroke="#3c3c3c" stroke-width="2" fill="none">
<rect x="36" y="2" width="309" height="249"/>
<line x1="36.00" y1="251" x2="36.00" y2="255.8"/><line x1="55.31" y1="251" x2="55.31" y2="253.6"/><line x1="74.62" y1="251" x2="74.62" y2="255.8"/><line x1="93.94" y1="251" x2="93.94" y2="253.6"/><line x1="113.25" y1="251" x2="113.25" y2="255.8"/><line x1="132.56" y1="251" x2="132.56" y2="253.6"/><line x1="151.88" y1="251" x2="151.88" y2="255.8"/><line x1="171.19" y1="251" x2="171.19" y2="253.6"/><line x1="190.50" y1="251" x2="190.50" y2="255.8"/><line x1="209.81" y1="251" x2="209.81" y2="253.6"/><line x1="229.12" y1="251" x2="229.12" y2="255.8"/><line x1="248.44" y1="251" x2="248.44" y2="253.6"/><line x1="267.75" y1="251" x2="267.75" y2="255.8"/><line x1="287.06" y1="251" x2="287.06" y2="253.6"/><line x1="306.38" y1="251" x2="306.38" y2="255.8"/><line x1="325.69" y1="251" x2="325.69" y2="253.6"/><line x1="345.00" y1="251" x2="345.00" y2="255.8"/>
</g>
<g font-size="21" text-anchor="middle" fill="#000">
<text x="37.80" y="272.5">10</text><text x="75.42" y="272.5">20</text><text x="114.05" y="272.5">30</text><text x="152.68" y="272.5">40</text><text x="191.30" y="272.5">50</text><text x="229.93" y="272.5">60</text><text x="268.55" y="272.5">70</text><text x="307.18" y="272.5">80</text><text x="345.80" y="272.5">90</text>
</g>
<g font-size="14.8" fill="#000">
<text x="284.6" y="88.3">ACCS-5</text>
<text x="285.7" y="136.8">ACCS-3</text>
<text x="286.5" y="183.3">ACCS-1</text>
<text x="286.4" y="234.6">ACCS-0</text>
<text x="73.5" y="189.5">(002)</text>
<text x="151.5" y="217.5">(100)</text>
</g>
<g transform="translate(142.5,299) scale(1.045,1)"><text font-size="19.6" font-weight="bold"><tspan x="0">2</tspan><tspan dx="-0.6">θ</tspan><tspan x="23.1">(degree)</tspan></text></g>
<text transform="translate(15.1,131.3) rotate(-90)" font-size="20.6" font-weight="bold" text-anchor="middle">Intensity (a.u.)</text>
</svg>
</body></html>
